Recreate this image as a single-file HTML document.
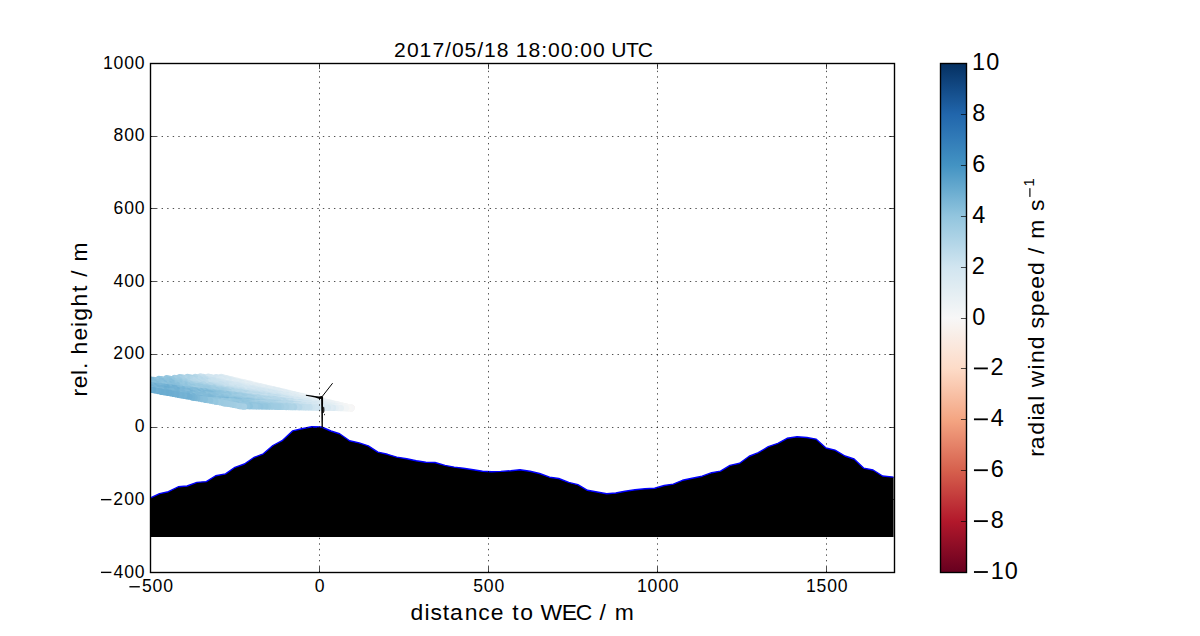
<!DOCTYPE html>
<html><head><meta charset="utf-8"><style>
html,body{margin:0;padding:0;background:#fff;width:1200px;height:636px;overflow:hidden;}
svg{display:block;}
text{font-family:"Liberation Sans",sans-serif;}
</style></head><body>
<svg width="1200" height="636" viewBox="0 0 1200 636">
<defs>
<linearGradient id="cb" x1="0" y1="0" x2="0" y2="1"><stop offset="0" stop-color="#053061"/><stop offset="0.05" stop-color="#134b87"/><stop offset="0.1" stop-color="#2166ac"/><stop offset="0.15" stop-color="#327cb8"/><stop offset="0.2" stop-color="#4393c3"/><stop offset="0.25" stop-color="#6aacd0"/><stop offset="0.3" stop-color="#92c5de"/><stop offset="0.35" stop-color="#b1d5e7"/><stop offset="0.4" stop-color="#d1e5f0"/><stop offset="0.45" stop-color="#e4eef3"/><stop offset="0.5" stop-color="#f7f7f7"/><stop offset="0.55" stop-color="#fae9df"/><stop offset="0.6" stop-color="#fddbc7"/><stop offset="0.65" stop-color="#f8c0a5"/><stop offset="0.7" stop-color="#f4a582"/><stop offset="0.75" stop-color="#e58268"/><stop offset="0.8" stop-color="#d6604d"/><stop offset="0.85" stop-color="#c43c3c"/><stop offset="0.9" stop-color="#b2182b"/><stop offset="0.95" stop-color="#8c0c25"/><stop offset="1" stop-color="#67001f"/></linearGradient>


<clipPath id="axclip"><rect x="150.5" y="63.5" width="744.0" height="509.0"/></clipPath>
</defs>
<rect width="1200" height="636" fill="#fff"/>
<g clip-path="url(#axclip)">
<circle cx="351.3" cy="407.62" r="3.1" fill="#f8f4f2"/><circle cx="348.7" cy="407.01" r="3.1" fill="#f8f4f2"/><circle cx="346.1" cy="406.39" r="3.1" fill="#f7f6f6"/><circle cx="343.5" cy="405.78" r="3.1" fill="#f6f7f7"/><circle cx="340.9" cy="405.17" r="3.1" fill="#f7f5f4"/><circle cx="338.3" cy="404.55" r="3.1" fill="#f7f6f6"/><circle cx="335.7" cy="403.94" r="3.1" fill="#f0f4f6"/><circle cx="333.1" cy="403.33" r="3.1" fill="#f3f5f6"/><circle cx="330.5" cy="402.71" r="3.1" fill="#f2f5f6"/><circle cx="327.9" cy="402.1" r="3.1" fill="#ebf1f5"/><circle cx="325.3" cy="401.49" r="3.1" fill="#eef3f5"/><circle cx="322.7" cy="400.87" r="3.1" fill="#eaf1f5"/><circle cx="320.1" cy="400.26" r="3.1" fill="#ecf2f5"/><circle cx="317.5" cy="399.64" r="3.1" fill="#ebf1f5"/><circle cx="314.9" cy="399.03" r="3.1" fill="#eff3f6"/><circle cx="312.3" cy="398.42" r="3.1" fill="#ecf2f5"/><circle cx="309.7" cy="397.8" r="3.1" fill="#ebf1f5"/><circle cx="307.1" cy="397.19" r="3.1" fill="#edf2f5"/><circle cx="304.5" cy="396.58" r="3.1" fill="#eaf1f5"/><circle cx="301.9" cy="395.96" r="3.1" fill="#e9f1f4"/><circle cx="299.3" cy="395.35" r="3.1" fill="#edf2f5"/><circle cx="296.7" cy="394.74" r="3.1" fill="#e6eff4"/><circle cx="294.1" cy="394.12" r="3.1" fill="#e6eff4"/><circle cx="291.5" cy="393.51" r="3.1" fill="#e7f0f4"/><circle cx="288.9" cy="392.89" r="3.1" fill="#e8f0f4"/><circle cx="286.3" cy="392.28" r="3.1" fill="#e2edf3"/><circle cx="283.7" cy="391.67" r="3.1" fill="#e5eff4"/><circle cx="281.1" cy="391.05" r="3.1" fill="#e4eef3"/><circle cx="278.5" cy="390.44" r="3.1" fill="#e2edf3"/><circle cx="275.9" cy="389.83" r="3.1" fill="#e4eef3"/><circle cx="273.3" cy="389.21" r="3.1" fill="#e3edf3"/><circle cx="270.7" cy="388.6" r="3.1" fill="#e7eff4"/><circle cx="268.1" cy="387.99" r="3.1" fill="#e5eef4"/><circle cx="265.5" cy="387.37" r="3.1" fill="#e8f0f4"/><circle cx="262.9" cy="386.76" r="3.1" fill="#e5eff4"/><circle cx="260.3" cy="386.15" r="3.1" fill="#e6eff4"/><circle cx="257.7" cy="385.53" r="3.1" fill="#ecf2f5"/><circle cx="255.1" cy="384.92" r="3.1" fill="#ecf2f5"/><circle cx="252.5" cy="384.3" r="3.1" fill="#ecf2f5"/><circle cx="249.9" cy="383.69" r="3.1" fill="#e6eff4"/><circle cx="247.3" cy="383.08" r="3.1" fill="#eaf1f5"/><circle cx="244.7" cy="382.46" r="3.1" fill="#e8f0f4"/><circle cx="242.1" cy="381.85" r="3.1" fill="#eaf1f5"/><circle cx="239.5" cy="381.24" r="3.1" fill="#e7eff4"/><circle cx="236.9" cy="380.62" r="3.1" fill="#e6eff4"/><circle cx="234.3" cy="380.01" r="3.1" fill="#e5eff4"/><circle cx="231.7" cy="379.4" r="3.1" fill="#e2edf3"/><circle cx="229.1" cy="378.78" r="3.1" fill="#e1edf3"/><circle cx="226.5" cy="378.17" r="3.1" fill="#ddebf2"/><circle cx="223.9" cy="377.55" r="3.1" fill="#deebf2"/><circle cx="221.3" cy="376.94" r="3.1" fill="#dbeaf2"/><circle cx="351.3" cy="407.65" r="3.1" fill="#f3f5f6"/><circle cx="348.7" cy="407.06" r="3.1" fill="#f4f6f6"/><circle cx="346.1" cy="406.47" r="3.1" fill="#f7f7f7"/><circle cx="343.5" cy="405.88" r="3.1" fill="#f0f4f6"/><circle cx="340.9" cy="405.3" r="3.1" fill="#eef3f5"/><circle cx="338.3" cy="404.71" r="3.1" fill="#ecf2f5"/><circle cx="335.7" cy="404.12" r="3.1" fill="#edf2f5"/><circle cx="333.1" cy="403.53" r="3.1" fill="#ebf1f5"/><circle cx="330.5" cy="402.94" r="3.1" fill="#eef3f5"/><circle cx="327.9" cy="402.35" r="3.1" fill="#e8f0f4"/><circle cx="325.3" cy="401.76" r="3.1" fill="#e9f0f4"/><circle cx="322.7" cy="401.17" r="3.1" fill="#eaf1f5"/><circle cx="320.1" cy="400.58" r="3.1" fill="#eaf1f5"/><circle cx="317.5" cy="399.99" r="3.1" fill="#e5eef4"/><circle cx="314.9" cy="399.4" r="3.1" fill="#e4eef4"/><circle cx="312.3" cy="398.81" r="3.1" fill="#ebf1f5"/><circle cx="309.7" cy="398.23" r="3.1" fill="#e6eff4"/><circle cx="307.1" cy="397.64" r="3.1" fill="#e9f0f4"/><circle cx="304.5" cy="397.05" r="3.1" fill="#eaf1f5"/><circle cx="301.9" cy="396.46" r="3.1" fill="#e7f0f4"/><circle cx="299.3" cy="395.87" r="3.1" fill="#e3edf3"/><circle cx="296.7" cy="395.28" r="3.1" fill="#e1ecf3"/><circle cx="294.1" cy="394.69" r="3.1" fill="#e5eff4"/><circle cx="291.5" cy="394.1" r="3.1" fill="#e0ecf3"/><circle cx="288.9" cy="393.51" r="3.1" fill="#e3eef3"/><circle cx="286.3" cy="392.92" r="3.1" fill="#deebf2"/><circle cx="283.7" cy="392.33" r="3.1" fill="#e1ecf3"/><circle cx="281.1" cy="391.74" r="3.1" fill="#dceaf2"/><circle cx="278.5" cy="391.16" r="3.1" fill="#dbeaf2"/><circle cx="275.9" cy="390.57" r="3.1" fill="#deebf2"/><circle cx="273.3" cy="389.98" r="3.1" fill="#dbeaf2"/><circle cx="270.7" cy="389.39" r="3.1" fill="#e1ecf3"/><circle cx="268.1" cy="388.8" r="3.1" fill="#e3edf3"/><circle cx="265.5" cy="388.21" r="3.1" fill="#dfecf3"/><circle cx="262.9" cy="387.62" r="3.1" fill="#e4eef4"/><circle cx="260.3" cy="387.03" r="3.1" fill="#e3eef3"/><circle cx="257.7" cy="386.44" r="3.1" fill="#e2edf3"/><circle cx="255.1" cy="385.85" r="3.1" fill="#e1ecf3"/><circle cx="252.5" cy="385.26" r="3.1" fill="#e4eef4"/><circle cx="249.9" cy="384.67" r="3.1" fill="#e5eef4"/><circle cx="247.3" cy="384.08" r="3.1" fill="#dfebf2"/><circle cx="244.7" cy="383.5" r="3.1" fill="#e3edf3"/><circle cx="242.1" cy="382.91" r="3.1" fill="#ddebf2"/><circle cx="239.5" cy="382.32" r="3.1" fill="#dceaf2"/><circle cx="236.9" cy="381.73" r="3.1" fill="#dfecf3"/><circle cx="234.3" cy="381.14" r="3.1" fill="#ddebf2"/><circle cx="231.7" cy="380.55" r="3.1" fill="#dceaf2"/><circle cx="229.1" cy="379.96" r="3.1" fill="#d9e9f2"/><circle cx="226.5" cy="379.37" r="3.1" fill="#d9e9f1"/><circle cx="223.9" cy="378.78" r="3.1" fill="#d8e8f1"/><circle cx="221.3" cy="378.19" r="3.1" fill="#d6e7f1"/><circle cx="218.7" cy="377.6" r="3.1" fill="#d3e6f0"/><circle cx="216.1" cy="377.01" r="3.1" fill="#d4e6f1"/><circle cx="351.3" cy="407.68" r="3.1" fill="#f7f6f5"/><circle cx="348.7" cy="407.12" r="3.1" fill="#f8f4f2"/><circle cx="346.1" cy="406.55" r="3.1" fill="#f7f6f5"/><circle cx="343.5" cy="405.99" r="3.1" fill="#f2f5f6"/><circle cx="340.9" cy="405.42" r="3.1" fill="#f4f6f6"/><circle cx="338.3" cy="404.86" r="3.1" fill="#f2f5f6"/><circle cx="335.7" cy="404.29" r="3.1" fill="#f5f6f7"/><circle cx="333.1" cy="403.73" r="3.1" fill="#f0f4f6"/><circle cx="330.5" cy="403.17" r="3.1" fill="#edf2f5"/><circle cx="327.9" cy="402.6" r="3.1" fill="#f1f4f6"/><circle cx="325.3" cy="402.04" r="3.1" fill="#ebf1f5"/><circle cx="322.7" cy="401.47" r="3.1" fill="#eaf1f5"/><circle cx="320.1" cy="400.91" r="3.1" fill="#eef3f5"/><circle cx="317.5" cy="400.34" r="3.1" fill="#eaf1f5"/><circle cx="314.9" cy="399.78" r="3.1" fill="#ebf1f5"/><circle cx="312.3" cy="399.21" r="3.1" fill="#eaf1f5"/><circle cx="309.7" cy="398.65" r="3.1" fill="#edf2f5"/><circle cx="307.1" cy="398.08" r="3.1" fill="#eaf1f5"/><circle cx="304.5" cy="397.52" r="3.1" fill="#e9f0f4"/><circle cx="301.9" cy="396.95" r="3.1" fill="#ecf2f5"/><circle cx="299.3" cy="396.39" r="3.1" fill="#eaf1f5"/><circle cx="296.7" cy="395.82" r="3.1" fill="#e4eef4"/><circle cx="294.1" cy="395.26" r="3.1" fill="#e1edf3"/><circle cx="291.5" cy="394.69" r="3.1" fill="#e5eff4"/><circle cx="288.9" cy="394.13" r="3.1" fill="#e2edf3"/><circle cx="286.3" cy="393.56" r="3.1" fill="#e1ecf3"/><circle cx="283.7" cy="393" r="3.1" fill="#e2edf3"/><circle cx="281.1" cy="392.43" r="3.1" fill="#e2edf3"/><circle cx="278.5" cy="391.87" r="3.1" fill="#e2edf3"/><circle cx="275.9" cy="391.3" r="3.1" fill="#e1ecf3"/><circle cx="273.3" cy="390.74" r="3.1" fill="#dfecf3"/><circle cx="270.7" cy="390.18" r="3.1" fill="#e1edf3"/><circle cx="268.1" cy="389.61" r="3.1" fill="#e1edf3"/><circle cx="265.5" cy="389.05" r="3.1" fill="#deebf2"/><circle cx="262.9" cy="388.48" r="3.1" fill="#e4eef4"/><circle cx="260.3" cy="387.92" r="3.1" fill="#e0ecf3"/><circle cx="257.7" cy="387.35" r="3.1" fill="#dfecf3"/><circle cx="255.1" cy="386.79" r="3.1" fill="#e3edf3"/><circle cx="252.5" cy="386.22" r="3.1" fill="#e4eef3"/><circle cx="249.9" cy="385.66" r="3.1" fill="#dfecf3"/><circle cx="247.3" cy="385.09" r="3.1" fill="#e3eef3"/><circle cx="244.7" cy="384.53" r="3.1" fill="#e4eef3"/><circle cx="242.1" cy="383.96" r="3.1" fill="#e1edf3"/><circle cx="239.5" cy="383.4" r="3.1" fill="#deebf2"/><circle cx="236.9" cy="382.83" r="3.1" fill="#e1edf3"/><circle cx="234.3" cy="382.27" r="3.1" fill="#dfebf3"/><circle cx="231.7" cy="381.7" r="3.1" fill="#deebf2"/><circle cx="229.1" cy="381.14" r="3.1" fill="#d9e9f1"/><circle cx="226.5" cy="380.57" r="3.1" fill="#dbeaf2"/><circle cx="223.9" cy="380.01" r="3.1" fill="#d7e8f1"/><circle cx="221.3" cy="379.44" r="3.1" fill="#dbeaf2"/><circle cx="218.7" cy="378.88" r="3.1" fill="#d8e9f1"/><circle cx="216.1" cy="378.32" r="3.1" fill="#d4e6f1"/><circle cx="213.5" cy="377.75" r="3.1" fill="#d1e5f0"/><circle cx="210.9" cy="377.19" r="3.1" fill="#d3e6f0"/><circle cx="208.3" cy="376.62" r="3.1" fill="#d3e6f0"/><circle cx="351.3" cy="407.71" r="3.1" fill="#f8f3f1"/><circle cx="348.7" cy="407.17" r="3.1" fill="#f8f2ef"/><circle cx="346.1" cy="406.63" r="3.1" fill="#f7f7f7"/><circle cx="343.5" cy="406.09" r="3.1" fill="#f6f6f7"/><circle cx="340.9" cy="405.55" r="3.1" fill="#f7f6f5"/><circle cx="338.3" cy="405.01" r="3.1" fill="#f6f7f7"/><circle cx="335.7" cy="404.47" r="3.1" fill="#f0f4f6"/><circle cx="333.1" cy="403.93" r="3.1" fill="#f0f4f6"/><circle cx="330.5" cy="403.39" r="3.1" fill="#eef3f5"/><circle cx="327.9" cy="402.85" r="3.1" fill="#f0f4f6"/><circle cx="325.3" cy="402.31" r="3.1" fill="#f1f4f6"/><circle cx="322.7" cy="401.77" r="3.1" fill="#eef3f5"/><circle cx="320.1" cy="401.23" r="3.1" fill="#eaf1f5"/><circle cx="317.5" cy="400.69" r="3.1" fill="#eef3f5"/><circle cx="314.9" cy="400.15" r="3.1" fill="#eef3f5"/><circle cx="312.3" cy="399.61" r="3.1" fill="#eef3f5"/><circle cx="309.7" cy="399.07" r="3.1" fill="#eef3f5"/><circle cx="307.1" cy="398.53" r="3.1" fill="#edf2f5"/><circle cx="304.5" cy="397.99" r="3.1" fill="#e8f0f4"/><circle cx="301.9" cy="397.45" r="3.1" fill="#ecf2f5"/><circle cx="299.3" cy="396.91" r="3.1" fill="#ecf2f5"/><circle cx="296.7" cy="396.37" r="3.1" fill="#e3eef3"/><circle cx="294.1" cy="395.83" r="3.1" fill="#e3edf3"/><circle cx="291.5" cy="395.29" r="3.1" fill="#e1ecf3"/><circle cx="288.9" cy="394.75" r="3.1" fill="#e4eef3"/><circle cx="286.3" cy="394.21" r="3.1" fill="#dfecf3"/><circle cx="283.7" cy="393.67" r="3.1" fill="#dfebf3"/><circle cx="281.1" cy="393.12" r="3.1" fill="#e3eef3"/><circle cx="278.5" cy="392.58" r="3.1" fill="#dfebf3"/><circle cx="275.9" cy="392.04" r="3.1" fill="#ddebf2"/><circle cx="273.3" cy="391.5" r="3.1" fill="#deebf2"/><circle cx="270.7" cy="390.96" r="3.1" fill="#dfecf3"/><circle cx="268.1" cy="390.42" r="3.1" fill="#e1edf3"/><circle cx="265.5" cy="389.88" r="3.1" fill="#e1ecf3"/><circle cx="262.9" cy="389.34" r="3.1" fill="#e2edf3"/><circle cx="260.3" cy="388.8" r="3.1" fill="#e3eef3"/><circle cx="257.7" cy="388.26" r="3.1" fill="#e0ecf3"/><circle cx="255.1" cy="387.72" r="3.1" fill="#e2edf3"/><circle cx="252.5" cy="387.18" r="3.1" fill="#deebf2"/><circle cx="249.9" cy="386.64" r="3.1" fill="#e4eef4"/><circle cx="247.3" cy="386.1" r="3.1" fill="#ddebf2"/><circle cx="244.7" cy="385.56" r="3.1" fill="#dfecf3"/><circle cx="242.1" cy="385.02" r="3.1" fill="#ddebf2"/><circle cx="239.5" cy="384.48" r="3.1" fill="#dceaf2"/><circle cx="236.9" cy="383.94" r="3.1" fill="#dbeaf2"/><circle cx="234.3" cy="383.4" r="3.1" fill="#dceaf2"/><circle cx="231.7" cy="382.86" r="3.1" fill="#e0ecf3"/><circle cx="229.1" cy="382.32" r="3.1" fill="#d9e9f2"/><circle cx="226.5" cy="381.78" r="3.1" fill="#ddebf2"/><circle cx="223.9" cy="381.24" r="3.1" fill="#dbeaf2"/><circle cx="221.3" cy="380.7" r="3.1" fill="#d7e8f1"/><circle cx="218.7" cy="380.16" r="3.1" fill="#d7e8f1"/><circle cx="216.1" cy="379.62" r="3.1" fill="#d6e8f1"/><circle cx="213.5" cy="379.08" r="3.1" fill="#d1e5f0"/><circle cx="210.9" cy="378.54" r="3.1" fill="#d2e6f0"/><circle cx="208.3" cy="378" r="3.1" fill="#d3e6f0"/><circle cx="205.7" cy="377.45" r="3.1" fill="#d2e5f0"/><circle cx="203.1" cy="376.91" r="3.1" fill="#c8e0ed"/><circle cx="200.5" cy="376.37" r="3.1" fill="#cae1ee"/><circle cx="351.3" cy="407.75" r="3.1" fill="#f7f6f5"/><circle cx="348.7" cy="407.23" r="3.1" fill="#f7f6f5"/><circle cx="346.1" cy="406.71" r="3.1" fill="#f4f6f6"/><circle cx="343.5" cy="406.2" r="3.1" fill="#f1f4f6"/><circle cx="340.9" cy="405.68" r="3.1" fill="#f4f6f6"/><circle cx="338.3" cy="405.17" r="3.1" fill="#edf2f5"/><circle cx="335.7" cy="404.65" r="3.1" fill="#eaf1f5"/><circle cx="333.1" cy="404.13" r="3.1" fill="#e9f0f4"/><circle cx="330.5" cy="403.62" r="3.1" fill="#e8f0f4"/><circle cx="327.9" cy="403.1" r="3.1" fill="#edf2f5"/><circle cx="325.3" cy="402.59" r="3.1" fill="#e7eff4"/><circle cx="322.7" cy="402.07" r="3.1" fill="#e4eef4"/><circle cx="320.1" cy="401.55" r="3.1" fill="#e9f1f4"/><circle cx="317.5" cy="401.04" r="3.1" fill="#e8f0f4"/><circle cx="314.9" cy="400.52" r="3.1" fill="#e8f0f4"/><circle cx="312.3" cy="400.01" r="3.1" fill="#e6eff4"/><circle cx="309.7" cy="399.49" r="3.1" fill="#e7eff4"/><circle cx="307.1" cy="398.97" r="3.1" fill="#e6eff4"/><circle cx="304.5" cy="398.46" r="3.1" fill="#e2edf3"/><circle cx="301.9" cy="397.94" r="3.1" fill="#e7eff4"/><circle cx="299.3" cy="397.43" r="3.1" fill="#e5eef4"/><circle cx="296.7" cy="396.91" r="3.1" fill="#e3eef3"/><circle cx="294.1" cy="396.39" r="3.1" fill="#e2edf3"/><circle cx="291.5" cy="395.88" r="3.1" fill="#e1edf3"/><circle cx="288.9" cy="395.36" r="3.1" fill="#d9e9f2"/><circle cx="286.3" cy="394.85" r="3.1" fill="#d9e9f2"/><circle cx="283.7" cy="394.33" r="3.1" fill="#dfebf2"/><circle cx="281.1" cy="393.82" r="3.1" fill="#dae9f2"/><circle cx="278.5" cy="393.3" r="3.1" fill="#dbeaf2"/><circle cx="275.9" cy="392.78" r="3.1" fill="#dae9f2"/><circle cx="273.3" cy="392.27" r="3.1" fill="#d9e9f2"/><circle cx="270.7" cy="391.75" r="3.1" fill="#d7e8f1"/><circle cx="268.1" cy="391.24" r="3.1" fill="#d7e8f1"/><circle cx="265.5" cy="390.72" r="3.1" fill="#d9e9f1"/><circle cx="262.9" cy="390.2" r="3.1" fill="#dae9f2"/><circle cx="260.3" cy="389.69" r="3.1" fill="#d9e9f1"/><circle cx="257.7" cy="389.17" r="3.1" fill="#dbeaf2"/><circle cx="255.1" cy="388.66" r="3.1" fill="#d8e8f1"/><circle cx="252.5" cy="388.14" r="3.1" fill="#d7e8f1"/><circle cx="249.9" cy="387.62" r="3.1" fill="#d9e9f2"/><circle cx="247.3" cy="387.11" r="3.1" fill="#dceaf2"/><circle cx="244.7" cy="386.59" r="3.1" fill="#dbeaf2"/><circle cx="242.1" cy="386.08" r="3.1" fill="#d9e9f1"/><circle cx="239.5" cy="385.56" r="3.1" fill="#d6e7f1"/><circle cx="236.9" cy="385.04" r="3.1" fill="#d4e6f1"/><circle cx="234.3" cy="384.53" r="3.1" fill="#d6e7f1"/><circle cx="231.7" cy="384.01" r="3.1" fill="#d2e6f0"/><circle cx="229.1" cy="383.5" r="3.1" fill="#d3e6f0"/><circle cx="226.5" cy="382.98" r="3.1" fill="#d3e6f0"/><circle cx="223.9" cy="382.46" r="3.1" fill="#d3e6f0"/><circle cx="221.3" cy="381.95" r="3.1" fill="#d2e5f0"/><circle cx="218.7" cy="381.43" r="3.1" fill="#cee3ef"/><circle cx="216.1" cy="380.92" r="3.1" fill="#cfe4ef"/><circle cx="213.5" cy="380.4" r="3.1" fill="#c9e1ee"/><circle cx="210.9" cy="379.88" r="3.1" fill="#c9e1ee"/><circle cx="208.3" cy="379.37" r="3.1" fill="#cae1ee"/><circle cx="205.7" cy="378.85" r="3.1" fill="#c4deec"/><circle cx="203.1" cy="378.34" r="3.1" fill="#bfdceb"/><circle cx="200.5" cy="377.82" r="3.1" fill="#c4deec"/><circle cx="197.9" cy="377.31" r="3.1" fill="#bddbea"/><circle cx="195.3" cy="376.79" r="3.1" fill="#bad9e9"/><circle cx="351.3" cy="407.78" r="3.1" fill="#f3f5f6"/><circle cx="348.7" cy="407.28" r="3.1" fill="#f6f7f7"/><circle cx="346.1" cy="406.79" r="3.1" fill="#f1f4f6"/><circle cx="343.5" cy="406.3" r="3.1" fill="#f0f4f6"/><circle cx="340.9" cy="405.81" r="3.1" fill="#f2f5f6"/><circle cx="338.3" cy="405.32" r="3.1" fill="#eff3f5"/><circle cx="335.7" cy="404.83" r="3.1" fill="#eff3f6"/><circle cx="333.1" cy="404.34" r="3.1" fill="#e7f0f4"/><circle cx="330.5" cy="403.84" r="3.1" fill="#e8f0f4"/><circle cx="327.9" cy="403.35" r="3.1" fill="#e5eef4"/><circle cx="325.3" cy="402.86" r="3.1" fill="#e4eef4"/><circle cx="322.7" cy="402.37" r="3.1" fill="#e4eef4"/><circle cx="320.1" cy="401.88" r="3.1" fill="#e3edf3"/><circle cx="317.5" cy="401.39" r="3.1" fill="#e4eef4"/><circle cx="314.9" cy="400.89" r="3.1" fill="#e7f0f4"/><circle cx="312.3" cy="400.4" r="3.1" fill="#e3eef3"/><circle cx="309.7" cy="399.91" r="3.1" fill="#e8f0f4"/><circle cx="307.1" cy="399.42" r="3.1" fill="#e6eff4"/><circle cx="304.5" cy="398.93" r="3.1" fill="#e0ecf3"/><circle cx="301.9" cy="398.44" r="3.1" fill="#e4eef3"/><circle cx="299.3" cy="397.95" r="3.1" fill="#e2edf3"/><circle cx="296.7" cy="397.45" r="3.1" fill="#e1edf3"/><circle cx="294.1" cy="396.96" r="3.1" fill="#dae9f2"/><circle cx="291.5" cy="396.47" r="3.1" fill="#deebf2"/><circle cx="288.9" cy="395.98" r="3.1" fill="#dfebf3"/><circle cx="286.3" cy="395.49" r="3.1" fill="#d7e8f1"/><circle cx="283.7" cy="395" r="3.1" fill="#dceaf2"/><circle cx="281.1" cy="394.51" r="3.1" fill="#d5e7f1"/><circle cx="278.5" cy="394.01" r="3.1" fill="#d6e7f1"/><circle cx="275.9" cy="393.52" r="3.1" fill="#d3e6f0"/><circle cx="273.3" cy="393.03" r="3.1" fill="#d2e5f0"/><circle cx="270.7" cy="392.54" r="3.1" fill="#d4e6f1"/><circle cx="268.1" cy="392.05" r="3.1" fill="#d2e5f0"/><circle cx="265.5" cy="391.56" r="3.1" fill="#d7e8f1"/><circle cx="262.9" cy="391.06" r="3.1" fill="#d1e5f0"/><circle cx="260.3" cy="390.57" r="3.1" fill="#d4e6f0"/><circle cx="257.7" cy="390.08" r="3.1" fill="#d2e6f0"/><circle cx="255.1" cy="389.59" r="3.1" fill="#d7e8f1"/><circle cx="252.5" cy="389.1" r="3.1" fill="#d3e6f0"/><circle cx="249.9" cy="388.61" r="3.1" fill="#d1e5f0"/><circle cx="247.3" cy="388.12" r="3.1" fill="#d8e8f1"/><circle cx="244.7" cy="387.62" r="3.1" fill="#d6e7f1"/><circle cx="242.1" cy="387.13" r="3.1" fill="#d4e6f0"/><circle cx="239.5" cy="386.64" r="3.1" fill="#d1e5f0"/><circle cx="236.9" cy="386.15" r="3.1" fill="#d4e7f1"/><circle cx="234.3" cy="385.66" r="3.1" fill="#d4e6f1"/><circle cx="231.7" cy="385.17" r="3.1" fill="#d3e6f0"/><circle cx="229.1" cy="384.68" r="3.1" fill="#cfe4ef"/><circle cx="226.5" cy="384.18" r="3.1" fill="#cce2ef"/><circle cx="223.9" cy="383.69" r="3.1" fill="#cfe4f0"/><circle cx="221.3" cy="383.2" r="3.1" fill="#cfe4ef"/><circle cx="218.7" cy="382.71" r="3.1" fill="#cde3ef"/><circle cx="216.1" cy="382.22" r="3.1" fill="#cbe2ee"/><circle cx="213.5" cy="381.73" r="3.1" fill="#c8e1ed"/><circle cx="210.9" cy="381.23" r="3.1" fill="#cae2ee"/><circle cx="208.3" cy="380.74" r="3.1" fill="#c3deec"/><circle cx="205.7" cy="380.25" r="3.1" fill="#bad9e9"/><circle cx="203.1" cy="379.76" r="3.1" fill="#bfdceb"/><circle cx="200.5" cy="379.27" r="3.1" fill="#b8d8e9"/><circle cx="197.9" cy="378.78" r="3.1" fill="#bcdbea"/><circle cx="195.3" cy="378.29" r="3.1" fill="#b3d6e7"/><circle cx="192.7" cy="377.79" r="3.1" fill="#afd4e6"/><circle cx="190.1" cy="377.3" r="3.1" fill="#add3e6"/><circle cx="187.5" cy="376.81" r="3.1" fill="#acd2e5"/><circle cx="351.3" cy="407.81" r="3.1" fill="#f7f6f5"/><circle cx="348.7" cy="407.34" r="3.1" fill="#f5f6f7"/><circle cx="346.1" cy="406.87" r="3.1" fill="#f7f5f4"/><circle cx="343.5" cy="406.41" r="3.1" fill="#f7f6f5"/><circle cx="340.9" cy="405.94" r="3.1" fill="#f1f4f6"/><circle cx="338.3" cy="405.47" r="3.1" fill="#eef3f5"/><circle cx="335.7" cy="405" r="3.1" fill="#eef3f5"/><circle cx="333.1" cy="404.54" r="3.1" fill="#edf2f5"/><circle cx="330.5" cy="404.07" r="3.1" fill="#e9f1f4"/><circle cx="327.9" cy="403.6" r="3.1" fill="#ecf2f5"/><circle cx="325.3" cy="403.14" r="3.1" fill="#eaf1f5"/><circle cx="322.7" cy="402.67" r="3.1" fill="#eaf1f5"/><circle cx="320.1" cy="402.2" r="3.1" fill="#e6eff4"/><circle cx="317.5" cy="401.73" r="3.1" fill="#e8f0f4"/><circle cx="314.9" cy="401.27" r="3.1" fill="#e8f0f4"/><circle cx="312.3" cy="400.8" r="3.1" fill="#e4eef4"/><circle cx="309.7" cy="400.33" r="3.1" fill="#e2edf3"/><circle cx="307.1" cy="399.87" r="3.1" fill="#e6eff4"/><circle cx="304.5" cy="399.4" r="3.1" fill="#e1edf3"/><circle cx="301.9" cy="398.93" r="3.1" fill="#e2edf3"/><circle cx="299.3" cy="398.47" r="3.1" fill="#deebf2"/><circle cx="296.7" cy="398" r="3.1" fill="#dfebf3"/><circle cx="294.1" cy="397.53" r="3.1" fill="#e0ecf3"/><circle cx="291.5" cy="397.06" r="3.1" fill="#e0ecf3"/><circle cx="288.9" cy="396.6" r="3.1" fill="#e0ecf3"/><circle cx="286.3" cy="396.13" r="3.1" fill="#dceaf2"/><circle cx="283.7" cy="395.66" r="3.1" fill="#dbeaf2"/><circle cx="281.1" cy="395.2" r="3.1" fill="#dbeaf2"/><circle cx="278.5" cy="394.73" r="3.1" fill="#d8e9f1"/><circle cx="275.9" cy="394.26" r="3.1" fill="#d7e8f1"/><circle cx="273.3" cy="393.79" r="3.1" fill="#d3e6f0"/><circle cx="270.7" cy="393.33" r="3.1" fill="#d7e8f1"/><circle cx="268.1" cy="392.86" r="3.1" fill="#d0e5f0"/><circle cx="265.5" cy="392.39" r="3.1" fill="#d4e6f1"/><circle cx="262.9" cy="391.93" r="3.1" fill="#d2e6f0"/><circle cx="260.3" cy="391.46" r="3.1" fill="#d4e6f0"/><circle cx="257.7" cy="390.99" r="3.1" fill="#d1e5f0"/><circle cx="255.1" cy="390.52" r="3.1" fill="#d2e5f0"/><circle cx="252.5" cy="390.06" r="3.1" fill="#d4e6f0"/><circle cx="249.9" cy="389.59" r="3.1" fill="#d4e7f1"/><circle cx="247.3" cy="389.12" r="3.1" fill="#d2e6f0"/><circle cx="244.7" cy="388.66" r="3.1" fill="#d1e5f0"/><circle cx="242.1" cy="388.19" r="3.1" fill="#d4e7f1"/><circle cx="239.5" cy="387.72" r="3.1" fill="#d1e5f0"/><circle cx="236.9" cy="387.25" r="3.1" fill="#cde3ef"/><circle cx="234.3" cy="386.79" r="3.1" fill="#d1e5f0"/><circle cx="231.7" cy="386.32" r="3.1" fill="#d2e6f0"/><circle cx="229.1" cy="385.85" r="3.1" fill="#d2e5f0"/><circle cx="226.5" cy="385.39" r="3.1" fill="#cbe2ee"/><circle cx="223.9" cy="384.92" r="3.1" fill="#cbe2ee"/><circle cx="221.3" cy="384.45" r="3.1" fill="#c6dfed"/><circle cx="218.7" cy="383.99" r="3.1" fill="#c6e0ed"/><circle cx="216.1" cy="383.52" r="3.1" fill="#cbe2ee"/><circle cx="213.5" cy="383.05" r="3.1" fill="#cbe2ee"/><circle cx="210.9" cy="382.58" r="3.1" fill="#c9e1ee"/><circle cx="208.3" cy="382.12" r="3.1" fill="#c9e1ee"/><circle cx="205.7" cy="381.65" r="3.1" fill="#c0dceb"/><circle cx="203.1" cy="381.18" r="3.1" fill="#bbdaea"/><circle cx="200.5" cy="380.72" r="3.1" fill="#b8d8e9"/><circle cx="197.9" cy="380.25" r="3.1" fill="#bedbeb"/><circle cx="195.3" cy="379.78" r="3.1" fill="#b3d6e8"/><circle cx="192.7" cy="379.31" r="3.1" fill="#b8d8e9"/><circle cx="190.1" cy="378.85" r="3.1" fill="#b3d6e7"/><circle cx="187.5" cy="378.38" r="3.1" fill="#acd2e5"/><circle cx="184.9" cy="377.91" r="3.1" fill="#b1d5e7"/><circle cx="182.3" cy="377.45" r="3.1" fill="#aed3e6"/><circle cx="179.7" cy="376.98" r="3.1" fill="#a2cde2"/><circle cx="351.3" cy="407.84" r="3.1" fill="#f8f3f0"/><circle cx="348.7" cy="407.4" r="3.1" fill="#f7f5f4"/><circle cx="346.1" cy="406.95" r="3.1" fill="#f7f7f7"/><circle cx="343.5" cy="406.51" r="3.1" fill="#f8f4f2"/><circle cx="340.9" cy="406.07" r="3.1" fill="#f6f6f7"/><circle cx="338.3" cy="405.62" r="3.1" fill="#f2f5f6"/><circle cx="335.7" cy="405.18" r="3.1" fill="#f0f4f6"/><circle cx="333.1" cy="404.74" r="3.1" fill="#eff3f6"/><circle cx="330.5" cy="404.3" r="3.1" fill="#ebf1f5"/><circle cx="327.9" cy="403.85" r="3.1" fill="#e7f0f4"/><circle cx="325.3" cy="403.41" r="3.1" fill="#eaf1f5"/><circle cx="322.7" cy="402.97" r="3.1" fill="#e8f0f4"/><circle cx="320.1" cy="402.53" r="3.1" fill="#eaf1f5"/><circle cx="317.5" cy="402.08" r="3.1" fill="#e8f0f4"/><circle cx="314.9" cy="401.64" r="3.1" fill="#e5eef4"/><circle cx="312.3" cy="401.2" r="3.1" fill="#e8f0f4"/><circle cx="309.7" cy="400.76" r="3.1" fill="#e2edf3"/><circle cx="307.1" cy="400.31" r="3.1" fill="#e0ecf3"/><circle cx="304.5" cy="399.87" r="3.1" fill="#e6eff4"/><circle cx="301.9" cy="399.43" r="3.1" fill="#deebf2"/><circle cx="299.3" cy="398.98" r="3.1" fill="#e1edf3"/><circle cx="296.7" cy="398.54" r="3.1" fill="#ddebf2"/><circle cx="294.1" cy="398.1" r="3.1" fill="#dceaf2"/><circle cx="291.5" cy="397.66" r="3.1" fill="#dfebf3"/><circle cx="288.9" cy="397.21" r="3.1" fill="#dbeaf2"/><circle cx="286.3" cy="396.77" r="3.1" fill="#d9e9f2"/><circle cx="283.7" cy="396.33" r="3.1" fill="#d7e8f1"/><circle cx="281.1" cy="395.89" r="3.1" fill="#dae9f2"/><circle cx="278.5" cy="395.44" r="3.1" fill="#d4e7f1"/><circle cx="275.9" cy="395" r="3.1" fill="#d2e5f0"/><circle cx="273.3" cy="394.56" r="3.1" fill="#d3e6f0"/><circle cx="270.7" cy="394.12" r="3.1" fill="#d3e6f0"/><circle cx="268.1" cy="393.67" r="3.1" fill="#d6e7f1"/><circle cx="265.5" cy="393.23" r="3.1" fill="#d2e6f0"/><circle cx="262.9" cy="392.79" r="3.1" fill="#d3e6f0"/><circle cx="260.3" cy="392.34" r="3.1" fill="#d0e4f0"/><circle cx="257.7" cy="391.9" r="3.1" fill="#d0e5f0"/><circle cx="255.1" cy="391.46" r="3.1" fill="#d2e5f0"/><circle cx="252.5" cy="391.02" r="3.1" fill="#d5e7f1"/><circle cx="249.9" cy="390.57" r="3.1" fill="#d1e5f0"/><circle cx="247.3" cy="390.13" r="3.1" fill="#d1e5f0"/><circle cx="244.7" cy="389.69" r="3.1" fill="#d4e7f1"/><circle cx="242.1" cy="389.25" r="3.1" fill="#cde3ef"/><circle cx="239.5" cy="388.8" r="3.1" fill="#cfe4ef"/><circle cx="236.9" cy="388.36" r="3.1" fill="#d3e6f0"/><circle cx="234.3" cy="387.92" r="3.1" fill="#c8e1ed"/><circle cx="231.7" cy="387.47" r="3.1" fill="#d1e5f0"/><circle cx="229.1" cy="387.03" r="3.1" fill="#cee3ef"/><circle cx="226.5" cy="386.59" r="3.1" fill="#c8e0ed"/><circle cx="223.9" cy="386.15" r="3.1" fill="#c8e0ed"/><circle cx="221.3" cy="385.7" r="3.1" fill="#c8e0ed"/><circle cx="218.7" cy="385.26" r="3.1" fill="#c5dfed"/><circle cx="216.1" cy="384.82" r="3.1" fill="#c5dfed"/><circle cx="213.5" cy="384.38" r="3.1" fill="#c6dfed"/><circle cx="210.9" cy="383.93" r="3.1" fill="#c6e0ed"/><circle cx="208.3" cy="383.49" r="3.1" fill="#c7e0ed"/><circle cx="205.7" cy="383.05" r="3.1" fill="#bddbea"/><circle cx="203.1" cy="382.61" r="3.1" fill="#bcdaea"/><circle cx="200.5" cy="382.16" r="3.1" fill="#bddbea"/><circle cx="197.9" cy="381.72" r="3.1" fill="#b8d8e9"/><circle cx="195.3" cy="381.28" r="3.1" fill="#bad9e9"/><circle cx="192.7" cy="380.83" r="3.1" fill="#b9d9e9"/><circle cx="190.1" cy="380.39" r="3.1" fill="#b4d6e8"/><circle cx="187.5" cy="379.95" r="3.1" fill="#abd2e5"/><circle cx="184.9" cy="379.51" r="3.1" fill="#b2d5e7"/><circle cx="182.3" cy="379.06" r="3.1" fill="#a9d1e5"/><circle cx="179.7" cy="378.62" r="3.1" fill="#a9d1e5"/><circle cx="177.1" cy="378.18" r="3.1" fill="#a0cce2"/><circle cx="174.5" cy="377.74" r="3.1" fill="#a3cde3"/><circle cx="351.3" cy="407.87" r="3.1" fill="#f8f4f1"/><circle cx="348.7" cy="407.45" r="3.1" fill="#f7f6f4"/><circle cx="346.1" cy="407.03" r="3.1" fill="#f6f6f7"/><circle cx="343.5" cy="406.61" r="3.1" fill="#f7f7f6"/><circle cx="340.9" cy="406.2" r="3.1" fill="#f1f4f6"/><circle cx="338.3" cy="405.78" r="3.1" fill="#f4f6f6"/><circle cx="335.7" cy="405.36" r="3.1" fill="#f0f4f6"/><circle cx="333.1" cy="404.94" r="3.1" fill="#eff3f6"/><circle cx="330.5" cy="404.52" r="3.1" fill="#eef3f5"/><circle cx="327.9" cy="404.1" r="3.1" fill="#e7f0f4"/><circle cx="325.3" cy="403.69" r="3.1" fill="#e7eff4"/><circle cx="322.7" cy="403.27" r="3.1" fill="#e9f1f4"/><circle cx="320.1" cy="402.85" r="3.1" fill="#e8f0f4"/><circle cx="317.5" cy="402.43" r="3.1" fill="#e6eff4"/><circle cx="314.9" cy="402.01" r="3.1" fill="#e3edf3"/><circle cx="312.3" cy="401.6" r="3.1" fill="#e1edf3"/><circle cx="309.7" cy="401.18" r="3.1" fill="#e1ecf3"/><circle cx="307.1" cy="400.76" r="3.1" fill="#e1ecf3"/><circle cx="304.5" cy="400.34" r="3.1" fill="#e3eef3"/><circle cx="301.9" cy="399.92" r="3.1" fill="#e0ecf3"/><circle cx="299.3" cy="399.5" r="3.1" fill="#e0ecf3"/><circle cx="296.7" cy="399.09" r="3.1" fill="#dceaf2"/><circle cx="294.1" cy="398.67" r="3.1" fill="#dbeaf2"/><circle cx="291.5" cy="398.25" r="3.1" fill="#ddebf2"/><circle cx="288.9" cy="397.83" r="3.1" fill="#dbeaf2"/><circle cx="286.3" cy="397.41" r="3.1" fill="#d6e7f1"/><circle cx="283.7" cy="396.99" r="3.1" fill="#dae9f2"/><circle cx="281.1" cy="396.58" r="3.1" fill="#d3e6f0"/><circle cx="278.5" cy="396.16" r="3.1" fill="#d1e5f0"/><circle cx="275.9" cy="395.74" r="3.1" fill="#cee3ef"/><circle cx="273.3" cy="395.32" r="3.1" fill="#d3e6f0"/><circle cx="270.7" cy="394.9" r="3.1" fill="#d1e5f0"/><circle cx="268.1" cy="394.48" r="3.1" fill="#cfe4f0"/><circle cx="265.5" cy="394.07" r="3.1" fill="#cee3ef"/><circle cx="262.9" cy="393.65" r="3.1" fill="#c8e1ee"/><circle cx="260.3" cy="393.23" r="3.1" fill="#cce2ef"/><circle cx="257.7" cy="392.81" r="3.1" fill="#d1e5f0"/><circle cx="255.1" cy="392.39" r="3.1" fill="#cae1ee"/><circle cx="252.5" cy="391.98" r="3.1" fill="#cee4ef"/><circle cx="249.9" cy="391.56" r="3.1" fill="#cce2ef"/><circle cx="247.3" cy="391.14" r="3.1" fill="#cae1ee"/><circle cx="244.7" cy="390.72" r="3.1" fill="#d2e5f0"/><circle cx="242.1" cy="390.3" r="3.1" fill="#c8e0ed"/><circle cx="239.5" cy="389.88" r="3.1" fill="#c8e0ed"/><circle cx="236.9" cy="389.47" r="3.1" fill="#c9e1ee"/><circle cx="234.3" cy="389.05" r="3.1" fill="#c7e0ed"/><circle cx="231.7" cy="388.63" r="3.1" fill="#c7e0ed"/><circle cx="229.1" cy="388.21" r="3.1" fill="#c9e1ee"/><circle cx="226.5" cy="387.79" r="3.1" fill="#c4deec"/><circle cx="223.9" cy="387.37" r="3.1" fill="#c9e1ee"/><circle cx="221.3" cy="386.96" r="3.1" fill="#c2ddec"/><circle cx="218.7" cy="386.54" r="3.1" fill="#bfdceb"/><circle cx="216.1" cy="386.12" r="3.1" fill="#bfdceb"/><circle cx="213.5" cy="385.7" r="3.1" fill="#bcdaea"/><circle cx="210.9" cy="385.28" r="3.1" fill="#b6d7e8"/><circle cx="208.3" cy="384.86" r="3.1" fill="#b5d7e8"/><circle cx="205.7" cy="384.45" r="3.1" fill="#bedbea"/><circle cx="203.1" cy="384.03" r="3.1" fill="#b4d6e8"/><circle cx="200.5" cy="383.61" r="3.1" fill="#b5d7e8"/><circle cx="197.9" cy="383.19" r="3.1" fill="#bbdaea"/><circle cx="195.3" cy="382.77" r="3.1" fill="#b6d7e8"/><circle cx="192.7" cy="382.36" r="3.1" fill="#b6d7e8"/><circle cx="190.1" cy="381.94" r="3.1" fill="#b6d7e8"/><circle cx="187.5" cy="381.52" r="3.1" fill="#add3e6"/><circle cx="184.9" cy="381.1" r="3.1" fill="#a4cee3"/><circle cx="182.3" cy="380.68" r="3.1" fill="#a8d0e4"/><circle cx="179.7" cy="380.26" r="3.1" fill="#9ecbe1"/><circle cx="177.1" cy="379.85" r="3.1" fill="#9dcbe1"/><circle cx="174.5" cy="379.43" r="3.1" fill="#a1cde2"/><circle cx="171.9" cy="379.01" r="3.1" fill="#96c7df"/><circle cx="169.3" cy="378.59" r="3.1" fill="#97c8e0"/><circle cx="166.7" cy="378.17" r="3.1" fill="#94c6df"/><circle cx="351.3" cy="407.9" r="3.1" fill="#f6f7f7"/><circle cx="348.7" cy="407.51" r="3.1" fill="#f7f7f6"/><circle cx="346.1" cy="407.11" r="3.1" fill="#f3f5f6"/><circle cx="343.5" cy="406.72" r="3.1" fill="#f0f4f6"/><circle cx="340.9" cy="406.32" r="3.1" fill="#eef3f5"/><circle cx="338.3" cy="405.93" r="3.1" fill="#eef3f5"/><circle cx="335.7" cy="405.54" r="3.1" fill="#e9f1f4"/><circle cx="333.1" cy="405.14" r="3.1" fill="#e9f0f4"/><circle cx="330.5" cy="404.75" r="3.1" fill="#eaf1f5"/><circle cx="327.9" cy="404.36" r="3.1" fill="#e9f1f4"/><circle cx="325.3" cy="403.96" r="3.1" fill="#e8f0f4"/><circle cx="322.7" cy="403.57" r="3.1" fill="#e6eff4"/><circle cx="320.1" cy="403.17" r="3.1" fill="#e5eef4"/><circle cx="317.5" cy="402.78" r="3.1" fill="#e1edf3"/><circle cx="314.9" cy="402.39" r="3.1" fill="#dfebf3"/><circle cx="312.3" cy="401.99" r="3.1" fill="#dfecf3"/><circle cx="309.7" cy="401.6" r="3.1" fill="#deebf2"/><circle cx="307.1" cy="401.2" r="3.1" fill="#dbeaf2"/><circle cx="304.5" cy="400.81" r="3.1" fill="#ddebf2"/><circle cx="301.9" cy="400.42" r="3.1" fill="#dae9f2"/><circle cx="299.3" cy="400.02" r="3.1" fill="#d7e8f1"/><circle cx="296.7" cy="399.63" r="3.1" fill="#d8e8f1"/><circle cx="294.1" cy="399.24" r="3.1" fill="#d9e9f1"/><circle cx="291.5" cy="398.84" r="3.1" fill="#d2e6f0"/><circle cx="288.9" cy="398.45" r="3.1" fill="#d2e6f0"/><circle cx="286.3" cy="398.05" r="3.1" fill="#d4e6f1"/><circle cx="283.7" cy="397.66" r="3.1" fill="#d2e6f0"/><circle cx="281.1" cy="397.27" r="3.1" fill="#cfe4ef"/><circle cx="278.5" cy="396.87" r="3.1" fill="#cce3ef"/><circle cx="275.9" cy="396.48" r="3.1" fill="#cfe4ef"/><circle cx="273.3" cy="396.08" r="3.1" fill="#d1e5f0"/><circle cx="270.7" cy="395.69" r="3.1" fill="#cde3ef"/><circle cx="268.1" cy="395.3" r="3.1" fill="#c5dfec"/><circle cx="265.5" cy="394.9" r="3.1" fill="#cce2ee"/><circle cx="262.9" cy="394.51" r="3.1" fill="#c7e0ed"/><circle cx="260.3" cy="394.12" r="3.1" fill="#cae1ee"/><circle cx="257.7" cy="393.72" r="3.1" fill="#c9e1ee"/><circle cx="255.1" cy="393.33" r="3.1" fill="#c9e1ee"/><circle cx="252.5" cy="392.93" r="3.1" fill="#c6dfed"/><circle cx="249.9" cy="392.54" r="3.1" fill="#c8e0ed"/><circle cx="247.3" cy="392.15" r="3.1" fill="#c8e1ee"/><circle cx="244.7" cy="391.75" r="3.1" fill="#c6e0ed"/><circle cx="242.1" cy="391.36" r="3.1" fill="#c5dfec"/><circle cx="239.5" cy="390.96" r="3.1" fill="#bfdceb"/><circle cx="236.9" cy="390.57" r="3.1" fill="#c4deec"/><circle cx="234.3" cy="390.18" r="3.1" fill="#c3deec"/><circle cx="231.7" cy="389.78" r="3.1" fill="#bcdaea"/><circle cx="229.1" cy="389.39" r="3.1" fill="#bbdaea"/><circle cx="226.5" cy="389" r="3.1" fill="#b7d8e8"/><circle cx="223.9" cy="388.6" r="3.1" fill="#bedbea"/><circle cx="221.3" cy="388.21" r="3.1" fill="#b8d8e9"/><circle cx="218.7" cy="387.81" r="3.1" fill="#b6d8e8"/><circle cx="216.1" cy="387.42" r="3.1" fill="#b8d9e9"/><circle cx="213.5" cy="387.03" r="3.1" fill="#acd2e5"/><circle cx="210.9" cy="386.63" r="3.1" fill="#b4d6e8"/><circle cx="208.3" cy="386.24" r="3.1" fill="#b4d6e8"/><circle cx="205.7" cy="385.84" r="3.1" fill="#aed3e6"/><circle cx="203.1" cy="385.45" r="3.1" fill="#b1d5e7"/><circle cx="200.5" cy="385.06" r="3.1" fill="#aad1e5"/><circle cx="197.9" cy="384.66" r="3.1" fill="#acd2e5"/><circle cx="195.3" cy="384.27" r="3.1" fill="#aed3e6"/><circle cx="192.7" cy="383.88" r="3.1" fill="#add3e6"/><circle cx="190.1" cy="383.48" r="3.1" fill="#a4cee3"/><circle cx="187.5" cy="383.09" r="3.1" fill="#a8d0e4"/><circle cx="184.9" cy="382.69" r="3.1" fill="#9ecbe2"/><circle cx="182.3" cy="382.3" r="3.1" fill="#9fcce2"/><circle cx="179.7" cy="381.91" r="3.1" fill="#96c7df"/><circle cx="177.1" cy="381.51" r="3.1" fill="#9ac9e0"/><circle cx="174.5" cy="381.12" r="3.1" fill="#97c8df"/><circle cx="171.9" cy="380.72" r="3.1" fill="#94c6df"/><circle cx="169.3" cy="380.33" r="3.1" fill="#8ac0db"/><circle cx="166.7" cy="379.94" r="3.1" fill="#8dc2dc"/><circle cx="164.1" cy="379.54" r="3.1" fill="#92c5de"/><circle cx="161.5" cy="379.15" r="3.1" fill="#96c7df"/><circle cx="158.9" cy="378.76" r="3.1" fill="#8ec3dd"/><circle cx="351.3" cy="407.93" r="3.1" fill="#f5f6f7"/><circle cx="348.7" cy="407.56" r="3.1" fill="#f7f6f5"/><circle cx="346.1" cy="407.19" r="3.1" fill="#f7f7f7"/><circle cx="343.5" cy="406.82" r="3.1" fill="#f4f6f6"/><circle cx="340.9" cy="406.45" r="3.1" fill="#f1f4f6"/><circle cx="338.3" cy="406.08" r="3.1" fill="#eff3f6"/><circle cx="335.7" cy="405.71" r="3.1" fill="#ecf2f5"/><circle cx="333.1" cy="405.35" r="3.1" fill="#e5eef4"/><circle cx="330.5" cy="404.98" r="3.1" fill="#e2edf3"/><circle cx="327.9" cy="404.61" r="3.1" fill="#e6eff4"/><circle cx="325.3" cy="404.24" r="3.1" fill="#deebf2"/><circle cx="322.7" cy="403.87" r="3.1" fill="#e1ecf3"/><circle cx="320.1" cy="403.5" r="3.1" fill="#ddebf2"/><circle cx="317.5" cy="403.13" r="3.1" fill="#dbeaf2"/><circle cx="314.9" cy="402.76" r="3.1" fill="#dae9f2"/><circle cx="312.3" cy="402.39" r="3.1" fill="#dfecf3"/><circle cx="309.7" cy="402.02" r="3.1" fill="#dbeaf2"/><circle cx="307.1" cy="401.65" r="3.1" fill="#d8e8f1"/><circle cx="304.5" cy="401.28" r="3.1" fill="#d4e6f1"/><circle cx="301.9" cy="400.91" r="3.1" fill="#d9e9f2"/><circle cx="299.3" cy="400.54" r="3.1" fill="#d6e7f1"/><circle cx="296.7" cy="400.17" r="3.1" fill="#d0e5f0"/><circle cx="294.1" cy="399.8" r="3.1" fill="#d5e7f1"/><circle cx="291.5" cy="399.43" r="3.1" fill="#d2e5f0"/><circle cx="288.9" cy="399.06" r="3.1" fill="#d1e5f0"/><circle cx="286.3" cy="398.7" r="3.1" fill="#cae2ee"/><circle cx="283.7" cy="398.33" r="3.1" fill="#c5dfed"/><circle cx="281.1" cy="397.96" r="3.1" fill="#cde3ef"/><circle cx="278.5" cy="397.59" r="3.1" fill="#c3deec"/><circle cx="275.9" cy="397.22" r="3.1" fill="#c2ddec"/><circle cx="273.3" cy="396.85" r="3.1" fill="#bfdceb"/><circle cx="270.7" cy="396.48" r="3.1" fill="#c2ddec"/><circle cx="268.1" cy="396.11" r="3.1" fill="#bcdaea"/><circle cx="265.5" cy="395.74" r="3.1" fill="#c2deec"/><circle cx="262.9" cy="395.37" r="3.1" fill="#c1ddeb"/><circle cx="260.3" cy="395" r="3.1" fill="#c2ddec"/><circle cx="257.7" cy="394.63" r="3.1" fill="#badaea"/><circle cx="255.1" cy="394.26" r="3.1" fill="#bedbea"/><circle cx="252.5" cy="393.89" r="3.1" fill="#bfdceb"/><circle cx="249.9" cy="393.52" r="3.1" fill="#bfdceb"/><circle cx="247.3" cy="393.15" r="3.1" fill="#b7d8e9"/><circle cx="244.7" cy="392.78" r="3.1" fill="#b7d8e9"/><circle cx="242.1" cy="392.42" r="3.1" fill="#b5d7e8"/><circle cx="239.5" cy="392.05" r="3.1" fill="#b8d8e9"/><circle cx="236.9" cy="391.68" r="3.1" fill="#b5d7e8"/><circle cx="234.3" cy="391.31" r="3.1" fill="#b7d8e9"/><circle cx="231.7" cy="390.94" r="3.1" fill="#afd4e6"/><circle cx="229.1" cy="390.57" r="3.1" fill="#b6d7e8"/><circle cx="226.5" cy="390.2" r="3.1" fill="#aed3e6"/><circle cx="223.9" cy="389.83" r="3.1" fill="#a9d1e5"/><circle cx="221.3" cy="389.46" r="3.1" fill="#a8d0e4"/><circle cx="218.7" cy="389.09" r="3.1" fill="#aed3e6"/><circle cx="216.1" cy="388.72" r="3.1" fill="#aad1e5"/><circle cx="213.5" cy="388.35" r="3.1" fill="#a1cde2"/><circle cx="210.9" cy="387.98" r="3.1" fill="#a3cee3"/><circle cx="208.3" cy="387.61" r="3.1" fill="#9fcce2"/><circle cx="205.7" cy="387.24" r="3.1" fill="#9fcbe2"/><circle cx="203.1" cy="386.87" r="3.1" fill="#a3cee3"/><circle cx="200.5" cy="386.5" r="3.1" fill="#9ccae1"/><circle cx="197.9" cy="386.13" r="3.1" fill="#9dcbe1"/><circle cx="195.3" cy="385.77" r="3.1" fill="#a1cde2"/><circle cx="192.7" cy="385.4" r="3.1" fill="#9fcce2"/><circle cx="190.1" cy="385.03" r="3.1" fill="#a2cde3"/><circle cx="187.5" cy="384.66" r="3.1" fill="#9ccae1"/><circle cx="184.9" cy="384.29" r="3.1" fill="#92c5de"/><circle cx="182.3" cy="383.92" r="3.1" fill="#9bc9e0"/><circle cx="179.7" cy="383.55" r="3.1" fill="#92c5de"/><circle cx="177.1" cy="383.18" r="3.1" fill="#95c6df"/><circle cx="174.5" cy="382.81" r="3.1" fill="#92c5de"/><circle cx="171.9" cy="382.44" r="3.1" fill="#85bdda"/><circle cx="169.3" cy="382.07" r="3.1" fill="#89bfdb"/><circle cx="166.7" cy="381.7" r="3.1" fill="#8dc2dc"/><circle cx="164.1" cy="381.33" r="3.1" fill="#8cc1dc"/><circle cx="161.5" cy="380.96" r="3.1" fill="#84bcd9"/><circle cx="158.9" cy="380.59" r="3.1" fill="#86bdda"/><circle cx="156.3" cy="380.22" r="3.1" fill="#8fc3dd"/><circle cx="153.7" cy="379.85" r="3.1" fill="#8cc1dc"/><circle cx="151.1" cy="379.49" r="3.1" fill="#81bad8"/><circle cx="148.5" cy="379.12" r="3.1" fill="#8dc2dc"/><circle cx="145.9" cy="378.75" r="3.1" fill="#89bfdb"/><circle cx="143.3" cy="378.38" r="3.1" fill="#8cc1dc"/><circle cx="140.7" cy="378.01" r="3.1" fill="#86bdda"/><circle cx="351.3" cy="407.96" r="3.1" fill="#f6f7f7"/><circle cx="348.7" cy="407.62" r="3.1" fill="#f7f7f7"/><circle cx="346.1" cy="407.27" r="3.1" fill="#f7f6f5"/><circle cx="343.5" cy="406.93" r="3.1" fill="#f6f7f7"/><circle cx="340.9" cy="406.58" r="3.1" fill="#f4f6f6"/><circle cx="338.3" cy="406.24" r="3.1" fill="#ebf2f5"/><circle cx="335.7" cy="405.89" r="3.1" fill="#eef3f5"/><circle cx="333.1" cy="405.55" r="3.1" fill="#ecf2f5"/><circle cx="330.5" cy="405.2" r="3.1" fill="#e3eef3"/><circle cx="327.9" cy="404.86" r="3.1" fill="#e8f0f4"/><circle cx="325.3" cy="404.51" r="3.1" fill="#e1edf3"/><circle cx="322.7" cy="404.17" r="3.1" fill="#e6eff4"/><circle cx="320.1" cy="403.82" r="3.1" fill="#e1edf3"/><circle cx="317.5" cy="403.48" r="3.1" fill="#e2edf3"/><circle cx="314.9" cy="403.13" r="3.1" fill="#dceaf2"/><circle cx="312.3" cy="402.79" r="3.1" fill="#dceaf2"/><circle cx="309.7" cy="402.44" r="3.1" fill="#dae9f2"/><circle cx="307.1" cy="402.1" r="3.1" fill="#d7e8f1"/><circle cx="304.5" cy="401.75" r="3.1" fill="#d5e7f1"/><circle cx="301.9" cy="401.41" r="3.1" fill="#d8e8f1"/><circle cx="299.3" cy="401.06" r="3.1" fill="#d4e7f1"/><circle cx="296.7" cy="400.72" r="3.1" fill="#d4e7f1"/><circle cx="294.1" cy="400.37" r="3.1" fill="#d6e7f1"/><circle cx="291.5" cy="400.03" r="3.1" fill="#cde3ef"/><circle cx="288.9" cy="399.68" r="3.1" fill="#cee4ef"/><circle cx="286.3" cy="399.34" r="3.1" fill="#cae1ee"/><circle cx="283.7" cy="398.99" r="3.1" fill="#cfe4ef"/><circle cx="281.1" cy="398.65" r="3.1" fill="#c9e1ee"/><circle cx="278.5" cy="398.3" r="3.1" fill="#c8e0ed"/><circle cx="275.9" cy="397.96" r="3.1" fill="#c3deec"/><circle cx="273.3" cy="397.61" r="3.1" fill="#cae1ee"/><circle cx="270.7" cy="397.27" r="3.1" fill="#c6dfed"/><circle cx="268.1" cy="396.92" r="3.1" fill="#c3deec"/><circle cx="265.5" cy="396.58" r="3.1" fill="#c7e0ed"/><circle cx="262.9" cy="396.23" r="3.1" fill="#c0dceb"/><circle cx="260.3" cy="395.89" r="3.1" fill="#bddbea"/><circle cx="257.7" cy="395.54" r="3.1" fill="#c0dceb"/><circle cx="255.1" cy="395.2" r="3.1" fill="#bcdaea"/><circle cx="252.5" cy="394.85" r="3.1" fill="#bbdaea"/><circle cx="249.9" cy="394.51" r="3.1" fill="#bfdceb"/><circle cx="247.3" cy="394.16" r="3.1" fill="#bbdaea"/><circle cx="244.7" cy="393.82" r="3.1" fill="#b2d5e7"/><circle cx="242.1" cy="393.47" r="3.1" fill="#b8d8e9"/><circle cx="239.5" cy="393.13" r="3.1" fill="#b6d7e8"/><circle cx="236.9" cy="392.78" r="3.1" fill="#b8d8e9"/><circle cx="234.3" cy="392.44" r="3.1" fill="#b4d6e8"/><circle cx="231.7" cy="392.09" r="3.1" fill="#b3d6e7"/><circle cx="229.1" cy="391.75" r="3.1" fill="#a7d0e4"/><circle cx="226.5" cy="391.4" r="3.1" fill="#a8d0e4"/><circle cx="223.9" cy="391.06" r="3.1" fill="#a4cee3"/><circle cx="221.3" cy="390.71" r="3.1" fill="#a0cce2"/><circle cx="218.7" cy="390.37" r="3.1" fill="#a3cee3"/><circle cx="216.1" cy="390.02" r="3.1" fill="#9ccae1"/><circle cx="213.5" cy="389.68" r="3.1" fill="#a1cde2"/><circle cx="210.9" cy="389.33" r="3.1" fill="#a2cde3"/><circle cx="208.3" cy="388.99" r="3.1" fill="#9ac9e0"/><circle cx="205.7" cy="388.64" r="3.1" fill="#9ac9e0"/><circle cx="203.1" cy="388.3" r="3.1" fill="#99c9e0"/><circle cx="200.5" cy="387.95" r="3.1" fill="#9ecbe1"/><circle cx="197.9" cy="387.61" r="3.1" fill="#9ac9e0"/><circle cx="195.3" cy="387.26" r="3.1" fill="#9dcbe1"/><circle cx="192.7" cy="386.92" r="3.1" fill="#95c7df"/><circle cx="190.1" cy="386.57" r="3.1" fill="#95c6df"/><circle cx="187.5" cy="386.23" r="3.1" fill="#9bcae1"/><circle cx="184.9" cy="385.88" r="3.1" fill="#90c4dd"/><circle cx="182.3" cy="385.54" r="3.1" fill="#98c8e0"/><circle cx="179.7" cy="385.19" r="3.1" fill="#96c7df"/><circle cx="177.1" cy="384.85" r="3.1" fill="#8ac0db"/><circle cx="174.5" cy="384.5" r="3.1" fill="#8ec2dd"/><circle cx="171.9" cy="384.16" r="3.1" fill="#87beda"/><circle cx="169.3" cy="383.81" r="3.1" fill="#83bbd9"/><circle cx="166.7" cy="383.47" r="3.1" fill="#8dc2dc"/><circle cx="164.1" cy="383.12" r="3.1" fill="#82bbd9"/><circle cx="161.5" cy="382.78" r="3.1" fill="#8ac0db"/><circle cx="158.9" cy="382.43" r="3.1" fill="#88bfdb"/><circle cx="156.3" cy="382.09" r="3.1" fill="#8ac0db"/><circle cx="153.7" cy="381.74" r="3.1" fill="#84bcd9"/><circle cx="151.1" cy="381.4" r="3.1" fill="#85bdd9"/><circle cx="148.5" cy="381.05" r="3.1" fill="#8cc1dc"/><circle cx="145.9" cy="380.71" r="3.1" fill="#90c4dd"/><circle cx="143.3" cy="380.36" r="3.1" fill="#8ec2dd"/><circle cx="140.7" cy="380.02" r="3.1" fill="#8dc2dc"/><circle cx="351.3" cy="407.99" r="3.1" fill="#f8f1ec"/><circle cx="348.7" cy="407.67" r="3.1" fill="#f7f5f4"/><circle cx="346.1" cy="407.35" r="3.1" fill="#f7f6f5"/><circle cx="343.5" cy="407.03" r="3.1" fill="#f4f6f6"/><circle cx="340.9" cy="406.71" r="3.1" fill="#f1f4f6"/><circle cx="338.3" cy="406.39" r="3.1" fill="#eff3f5"/><circle cx="335.7" cy="406.07" r="3.1" fill="#f0f3f6"/><circle cx="333.1" cy="405.75" r="3.1" fill="#eef3f5"/><circle cx="330.5" cy="405.43" r="3.1" fill="#ecf2f5"/><circle cx="327.9" cy="405.11" r="3.1" fill="#e9f0f4"/><circle cx="325.3" cy="404.79" r="3.1" fill="#e7eff4"/><circle cx="322.7" cy="404.47" r="3.1" fill="#e5eff4"/><circle cx="320.1" cy="404.15" r="3.1" fill="#e5eff4"/><circle cx="317.5" cy="403.83" r="3.1" fill="#e0ecf3"/><circle cx="314.9" cy="403.5" r="3.1" fill="#e3edf3"/><circle cx="312.3" cy="403.18" r="3.1" fill="#dfecf3"/><circle cx="309.7" cy="402.86" r="3.1" fill="#dae9f2"/><circle cx="307.1" cy="402.54" r="3.1" fill="#d9e9f1"/><circle cx="304.5" cy="402.22" r="3.1" fill="#dceaf2"/><circle cx="301.9" cy="401.9" r="3.1" fill="#dbeaf2"/><circle cx="299.3" cy="401.58" r="3.1" fill="#d5e7f1"/><circle cx="296.7" cy="401.26" r="3.1" fill="#d9e9f2"/><circle cx="294.1" cy="400.94" r="3.1" fill="#d7e8f1"/><circle cx="291.5" cy="400.62" r="3.1" fill="#d3e6f0"/><circle cx="288.9" cy="400.3" r="3.1" fill="#d2e5f0"/><circle cx="286.3" cy="399.98" r="3.1" fill="#d3e6f0"/><circle cx="283.7" cy="399.66" r="3.1" fill="#d3e6f0"/><circle cx="281.1" cy="399.34" r="3.1" fill="#d0e4f0"/><circle cx="278.5" cy="399.02" r="3.1" fill="#c7e0ed"/><circle cx="275.9" cy="398.7" r="3.1" fill="#c9e1ee"/><circle cx="273.3" cy="398.38" r="3.1" fill="#c1ddec"/><circle cx="270.7" cy="398.05" r="3.1" fill="#c3deec"/><circle cx="268.1" cy="397.73" r="3.1" fill="#bfdceb"/><circle cx="265.5" cy="397.41" r="3.1" fill="#cae2ee"/><circle cx="262.9" cy="397.09" r="3.1" fill="#c7e0ed"/><circle cx="260.3" cy="396.77" r="3.1" fill="#c8e1ee"/><circle cx="257.7" cy="396.45" r="3.1" fill="#c2ddec"/><circle cx="255.1" cy="396.13" r="3.1" fill="#c2ddec"/><circle cx="252.5" cy="395.81" r="3.1" fill="#c4deec"/><circle cx="249.9" cy="395.49" r="3.1" fill="#bcdaea"/><circle cx="247.3" cy="395.17" r="3.1" fill="#c0dceb"/><circle cx="244.7" cy="394.85" r="3.1" fill="#bbdaea"/><circle cx="242.1" cy="394.53" r="3.1" fill="#bbdaea"/><circle cx="239.5" cy="394.21" r="3.1" fill="#b2d5e7"/><circle cx="236.9" cy="393.89" r="3.1" fill="#b4d6e8"/><circle cx="234.3" cy="393.57" r="3.1" fill="#b4d6e8"/><circle cx="231.7" cy="393.25" r="3.1" fill="#b4d6e8"/><circle cx="229.1" cy="392.93" r="3.1" fill="#add3e6"/><circle cx="226.5" cy="392.6" r="3.1" fill="#a8d0e4"/><circle cx="223.9" cy="392.28" r="3.1" fill="#a5cee3"/><circle cx="221.3" cy="391.96" r="3.1" fill="#9fcce2"/><circle cx="218.7" cy="391.64" r="3.1" fill="#9ecbe1"/><circle cx="216.1" cy="391.32" r="3.1" fill="#a2cde3"/><circle cx="213.5" cy="391" r="3.1" fill="#a4cee3"/><circle cx="210.9" cy="390.68" r="3.1" fill="#9bcae1"/><circle cx="208.3" cy="390.36" r="3.1" fill="#9ac9e0"/><circle cx="205.7" cy="390.04" r="3.1" fill="#9dcbe1"/><circle cx="203.1" cy="389.72" r="3.1" fill="#99c8e0"/><circle cx="200.5" cy="389.4" r="3.1" fill="#9ccae1"/><circle cx="197.9" cy="389.08" r="3.1" fill="#9fcbe2"/><circle cx="195.3" cy="388.76" r="3.1" fill="#9fcce2"/><circle cx="192.7" cy="388.44" r="3.1" fill="#a1cce2"/><circle cx="190.1" cy="388.12" r="3.1" fill="#98c8e0"/><circle cx="187.5" cy="387.8" r="3.1" fill="#93c6de"/><circle cx="184.9" cy="387.48" r="3.1" fill="#91c4de"/><circle cx="182.3" cy="387.15" r="3.1" fill="#95c6df"/><circle cx="179.7" cy="386.83" r="3.1" fill="#8fc3dd"/><circle cx="177.1" cy="386.51" r="3.1" fill="#88bfdb"/><circle cx="174.5" cy="386.19" r="3.1" fill="#87beda"/><circle cx="171.9" cy="385.87" r="3.1" fill="#88beda"/><circle cx="169.3" cy="385.55" r="3.1" fill="#89bfdb"/><circle cx="166.7" cy="385.23" r="3.1" fill="#88beda"/><circle cx="164.1" cy="384.91" r="3.1" fill="#8ec2dd"/><circle cx="161.5" cy="384.59" r="3.1" fill="#8ec3dd"/><circle cx="158.9" cy="384.27" r="3.1" fill="#87beda"/><circle cx="156.3" cy="383.95" r="3.1" fill="#82bbd9"/><circle cx="153.7" cy="383.63" r="3.1" fill="#8ac0db"/><circle cx="151.1" cy="383.31" r="3.1" fill="#8cc2dc"/><circle cx="148.5" cy="382.99" r="3.1" fill="#8ec2dd"/><circle cx="145.9" cy="382.67" r="3.1" fill="#8dc2dc"/><circle cx="143.3" cy="382.35" r="3.1" fill="#88bfdb"/><circle cx="140.7" cy="382.03" r="3.1" fill="#8fc3dd"/><circle cx="351.3" cy="408.02" r="3.1" fill="#f7f6f5"/><circle cx="348.7" cy="407.73" r="3.1" fill="#f6f7f7"/><circle cx="346.1" cy="407.43" r="3.1" fill="#f3f5f6"/><circle cx="343.5" cy="407.14" r="3.1" fill="#f1f4f6"/><circle cx="340.9" cy="406.84" r="3.1" fill="#ebf1f5"/><circle cx="338.3" cy="406.54" r="3.1" fill="#e8f0f4"/><circle cx="335.7" cy="406.25" r="3.1" fill="#e4eef4"/><circle cx="333.1" cy="405.95" r="3.1" fill="#e4eef3"/><circle cx="330.5" cy="405.65" r="3.1" fill="#e6eff4"/><circle cx="327.9" cy="405.36" r="3.1" fill="#e1ecf3"/><circle cx="325.3" cy="405.06" r="3.1" fill="#dfecf3"/><circle cx="322.7" cy="404.77" r="3.1" fill="#deebf2"/><circle cx="320.1" cy="404.47" r="3.1" fill="#deebf2"/><circle cx="317.5" cy="404.17" r="3.1" fill="#d9e9f2"/><circle cx="314.9" cy="403.88" r="3.1" fill="#d6e7f1"/><circle cx="312.3" cy="403.58" r="3.1" fill="#dae9f2"/><circle cx="309.7" cy="403.29" r="3.1" fill="#d3e6f0"/><circle cx="307.1" cy="402.99" r="3.1" fill="#d3e6f0"/><circle cx="304.5" cy="402.69" r="3.1" fill="#d1e5f0"/><circle cx="301.9" cy="402.4" r="3.1" fill="#cae1ee"/><circle cx="299.3" cy="402.1" r="3.1" fill="#c7e0ed"/><circle cx="296.7" cy="401.8" r="3.1" fill="#c9e1ee"/><circle cx="294.1" cy="401.51" r="3.1" fill="#cce3ef"/><circle cx="291.5" cy="401.21" r="3.1" fill="#c1ddeb"/><circle cx="288.9" cy="400.92" r="3.1" fill="#c8e0ed"/><circle cx="286.3" cy="400.62" r="3.1" fill="#c3deec"/><circle cx="283.7" cy="400.32" r="3.1" fill="#bbdaea"/><circle cx="281.1" cy="400.03" r="3.1" fill="#bfdceb"/><circle cx="278.5" cy="399.73" r="3.1" fill="#bedbeb"/><circle cx="275.9" cy="399.44" r="3.1" fill="#b4d6e8"/><circle cx="273.3" cy="399.14" r="3.1" fill="#b3d6e7"/><circle cx="270.7" cy="398.84" r="3.1" fill="#bad9e9"/><circle cx="268.1" cy="398.55" r="3.1" fill="#b8d8e9"/><circle cx="265.5" cy="398.25" r="3.1" fill="#b8d8e9"/><circle cx="262.9" cy="397.95" r="3.1" fill="#b9d9e9"/><circle cx="260.3" cy="397.66" r="3.1" fill="#b6d7e8"/><circle cx="257.7" cy="397.36" r="3.1" fill="#abd2e5"/><circle cx="255.1" cy="397.07" r="3.1" fill="#b5d7e8"/><circle cx="252.5" cy="396.77" r="3.1" fill="#b2d5e7"/><circle cx="249.9" cy="396.47" r="3.1" fill="#b0d4e7"/><circle cx="247.3" cy="396.18" r="3.1" fill="#b0d4e7"/><circle cx="244.7" cy="395.88" r="3.1" fill="#a8d0e4"/><circle cx="242.1" cy="395.58" r="3.1" fill="#a3cee3"/><circle cx="239.5" cy="395.29" r="3.1" fill="#a0cce2"/><circle cx="236.9" cy="394.99" r="3.1" fill="#a0cce2"/><circle cx="234.3" cy="394.7" r="3.1" fill="#9ac9e0"/><circle cx="231.7" cy="394.4" r="3.1" fill="#a2cde2"/><circle cx="229.1" cy="394.1" r="3.1" fill="#9bcae1"/><circle cx="226.5" cy="393.81" r="3.1" fill="#90c3dd"/><circle cx="223.9" cy="393.51" r="3.1" fill="#98c8e0"/><circle cx="221.3" cy="393.22" r="3.1" fill="#94c6de"/><circle cx="218.7" cy="392.92" r="3.1" fill="#8ec3dd"/><circle cx="216.1" cy="392.62" r="3.1" fill="#90c4dd"/><circle cx="213.5" cy="392.33" r="3.1" fill="#8ac0db"/><circle cx="210.9" cy="392.03" r="3.1" fill="#91c5de"/><circle cx="208.3" cy="391.73" r="3.1" fill="#8dc2dc"/><circle cx="205.7" cy="391.44" r="3.1" fill="#81bad8"/><circle cx="203.1" cy="391.14" r="3.1" fill="#8dc2dc"/><circle cx="200.5" cy="390.85" r="3.1" fill="#80bad8"/><circle cx="197.9" cy="390.55" r="3.1" fill="#8bc1dc"/><circle cx="195.3" cy="390.25" r="3.1" fill="#7eb8d7"/><circle cx="192.7" cy="389.96" r="3.1" fill="#83bbd9"/><circle cx="190.1" cy="389.66" r="3.1" fill="#82bbd9"/><circle cx="187.5" cy="389.37" r="3.1" fill="#89bfdb"/><circle cx="184.9" cy="389.07" r="3.1" fill="#88bfdb"/><circle cx="182.3" cy="388.77" r="3.1" fill="#7bb7d6"/><circle cx="179.7" cy="388.48" r="3.1" fill="#82bbd9"/><circle cx="177.1" cy="388.18" r="3.1" fill="#7fb9d8"/><circle cx="174.5" cy="387.88" r="3.1" fill="#73b1d3"/><circle cx="171.9" cy="387.59" r="3.1" fill="#6fafd2"/><circle cx="169.3" cy="387.29" r="3.1" fill="#7bb6d6"/><circle cx="166.7" cy="387" r="3.1" fill="#6daed1"/><circle cx="164.1" cy="386.7" r="3.1" fill="#74b2d4"/><circle cx="161.5" cy="386.4" r="3.1" fill="#77b4d5"/><circle cx="158.9" cy="386.11" r="3.1" fill="#7cb7d6"/><circle cx="156.3" cy="385.81" r="3.1" fill="#78b5d5"/><circle cx="153.7" cy="385.51" r="3.1" fill="#6fafd2"/><circle cx="151.1" cy="385.22" r="3.1" fill="#7bb6d6"/><circle cx="148.5" cy="384.92" r="3.1" fill="#7eb8d7"/><circle cx="145.9" cy="384.63" r="3.1" fill="#7eb8d7"/><circle cx="143.3" cy="384.33" r="3.1" fill="#7fb9d8"/><circle cx="140.7" cy="384.03" r="3.1" fill="#7db8d7"/><circle cx="351.3" cy="408.06" r="3.1" fill="#f7f5f4"/><circle cx="348.7" cy="407.78" r="3.1" fill="#f7f7f7"/><circle cx="346.1" cy="407.51" r="3.1" fill="#f0f4f6"/><circle cx="343.5" cy="407.24" r="3.1" fill="#edf2f5"/><circle cx="340.9" cy="406.97" r="3.1" fill="#eaf1f5"/><circle cx="338.3" cy="406.7" r="3.1" fill="#ecf2f5"/><circle cx="335.7" cy="406.42" r="3.1" fill="#e8f0f4"/><circle cx="333.1" cy="406.15" r="3.1" fill="#e1ecf3"/><circle cx="330.5" cy="405.88" r="3.1" fill="#e3edf3"/><circle cx="327.9" cy="405.61" r="3.1" fill="#dfecf3"/><circle cx="325.3" cy="405.34" r="3.1" fill="#e1ecf3"/><circle cx="322.7" cy="405.07" r="3.1" fill="#e1edf3"/><circle cx="320.1" cy="404.79" r="3.1" fill="#ddebf2"/><circle cx="317.5" cy="404.52" r="3.1" fill="#d8e8f1"/><circle cx="314.9" cy="404.25" r="3.1" fill="#d6e7f1"/><circle cx="312.3" cy="403.98" r="3.1" fill="#d5e7f1"/><circle cx="309.7" cy="403.71" r="3.1" fill="#d3e6f0"/><circle cx="307.1" cy="403.44" r="3.1" fill="#d1e5f0"/><circle cx="304.5" cy="403.16" r="3.1" fill="#d0e5f0"/><circle cx="301.9" cy="402.89" r="3.1" fill="#cde3ef"/><circle cx="299.3" cy="402.62" r="3.1" fill="#c7e0ed"/><circle cx="296.7" cy="402.35" r="3.1" fill="#cce3ef"/><circle cx="294.1" cy="402.08" r="3.1" fill="#c5dfec"/><circle cx="291.5" cy="401.8" r="3.1" fill="#bedbea"/><circle cx="288.9" cy="401.53" r="3.1" fill="#bcdaea"/><circle cx="286.3" cy="401.26" r="3.1" fill="#c2ddec"/><circle cx="283.7" cy="400.99" r="3.1" fill="#b6d7e8"/><circle cx="281.1" cy="400.72" r="3.1" fill="#b6d7e8"/><circle cx="278.5" cy="400.45" r="3.1" fill="#bcdaea"/><circle cx="275.9" cy="400.17" r="3.1" fill="#b9d9e9"/><circle cx="273.3" cy="399.9" r="3.1" fill="#b9d9e9"/><circle cx="270.7" cy="399.63" r="3.1" fill="#bad9e9"/><circle cx="268.1" cy="399.36" r="3.1" fill="#add3e6"/><circle cx="265.5" cy="399.09" r="3.1" fill="#b3d6e7"/><circle cx="262.9" cy="398.82" r="3.1" fill="#acd2e5"/><circle cx="260.3" cy="398.54" r="3.1" fill="#b4d6e8"/><circle cx="257.7" cy="398.27" r="3.1" fill="#b3d6e8"/><circle cx="255.1" cy="398" r="3.1" fill="#a7d0e4"/><circle cx="252.5" cy="397.73" r="3.1" fill="#a6cfe4"/><circle cx="249.9" cy="397.46" r="3.1" fill="#a1cce2"/><circle cx="247.3" cy="397.18" r="3.1" fill="#a2cde3"/><circle cx="244.7" cy="396.91" r="3.1" fill="#a1cde2"/><circle cx="242.1" cy="396.64" r="3.1" fill="#9ccae1"/><circle cx="239.5" cy="396.37" r="3.1" fill="#a2cde3"/><circle cx="236.9" cy="396.1" r="3.1" fill="#9ac9e0"/><circle cx="234.3" cy="395.83" r="3.1" fill="#98c8e0"/><circle cx="231.7" cy="395.55" r="3.1" fill="#9ac9e0"/><circle cx="229.1" cy="395.28" r="3.1" fill="#92c5de"/><circle cx="226.5" cy="395.01" r="3.1" fill="#94c6de"/><circle cx="223.9" cy="394.74" r="3.1" fill="#8fc3dd"/><circle cx="221.3" cy="394.47" r="3.1" fill="#8fc3dd"/><circle cx="218.7" cy="394.2" r="3.1" fill="#8dc2dc"/><circle cx="216.1" cy="393.92" r="3.1" fill="#8bc0dc"/><circle cx="213.5" cy="393.65" r="3.1" fill="#86bdda"/><circle cx="210.9" cy="393.38" r="3.1" fill="#7eb9d7"/><circle cx="208.3" cy="393.11" r="3.1" fill="#7eb8d7"/><circle cx="205.7" cy="392.84" r="3.1" fill="#7eb8d7"/><circle cx="203.1" cy="392.56" r="3.1" fill="#7db8d7"/><circle cx="200.5" cy="392.29" r="3.1" fill="#84bcd9"/><circle cx="197.9" cy="392.02" r="3.1" fill="#78b5d5"/><circle cx="195.3" cy="391.75" r="3.1" fill="#82bbd9"/><circle cx="192.7" cy="391.48" r="3.1" fill="#84bcd9"/><circle cx="190.1" cy="391.21" r="3.1" fill="#7db8d7"/><circle cx="187.5" cy="390.93" r="3.1" fill="#78b5d5"/><circle cx="184.9" cy="390.66" r="3.1" fill="#7db8d7"/><circle cx="182.3" cy="390.39" r="3.1" fill="#76b4d5"/><circle cx="179.7" cy="390.12" r="3.1" fill="#7bb6d6"/><circle cx="177.1" cy="389.85" r="3.1" fill="#6eaed2"/><circle cx="174.5" cy="389.58" r="3.1" fill="#75b2d4"/><circle cx="171.9" cy="389.3" r="3.1" fill="#73b1d3"/><circle cx="169.3" cy="389.03" r="3.1" fill="#71b0d3"/><circle cx="166.7" cy="388.76" r="3.1" fill="#6badd1"/><circle cx="164.1" cy="388.49" r="3.1" fill="#6aacd0"/><circle cx="161.5" cy="388.22" r="3.1" fill="#71b0d3"/><circle cx="158.9" cy="387.95" r="3.1" fill="#73b1d3"/><circle cx="156.3" cy="387.67" r="3.1" fill="#70b0d2"/><circle cx="153.7" cy="387.4" r="3.1" fill="#79b5d5"/><circle cx="151.1" cy="387.13" r="3.1" fill="#74b2d4"/><circle cx="148.5" cy="386.86" r="3.1" fill="#6daed1"/><circle cx="145.9" cy="386.59" r="3.1" fill="#6fafd2"/><circle cx="143.3" cy="386.31" r="3.1" fill="#7bb7d6"/><circle cx="140.7" cy="386.04" r="3.1" fill="#6fafd2"/><circle cx="351.3" cy="408.09" r="3.1" fill="#f7f7f7"/><circle cx="348.7" cy="407.84" r="3.1" fill="#f7f5f3"/><circle cx="346.1" cy="407.59" r="3.1" fill="#f7f5f4"/><circle cx="343.5" cy="407.34" r="3.1" fill="#f4f6f6"/><circle cx="340.9" cy="407.1" r="3.1" fill="#eef3f5"/><circle cx="338.3" cy="406.85" r="3.1" fill="#eff3f5"/><circle cx="335.7" cy="406.6" r="3.1" fill="#e8f0f4"/><circle cx="333.1" cy="406.35" r="3.1" fill="#e6eff4"/><circle cx="330.5" cy="406.11" r="3.1" fill="#e7eff4"/><circle cx="327.9" cy="405.86" r="3.1" fill="#e6eff4"/><circle cx="325.3" cy="405.61" r="3.1" fill="#e2edf3"/><circle cx="322.7" cy="405.37" r="3.1" fill="#e2edf3"/><circle cx="320.1" cy="405.12" r="3.1" fill="#e0ecf3"/><circle cx="317.5" cy="404.87" r="3.1" fill="#dceaf2"/><circle cx="314.9" cy="404.62" r="3.1" fill="#d8e8f1"/><circle cx="312.3" cy="404.38" r="3.1" fill="#d8e8f1"/><circle cx="309.7" cy="404.13" r="3.1" fill="#d9e9f1"/><circle cx="307.1" cy="403.88" r="3.1" fill="#d6e8f1"/><circle cx="304.5" cy="403.63" r="3.1" fill="#d4e6f1"/><circle cx="301.9" cy="403.39" r="3.1" fill="#d0e5f0"/><circle cx="299.3" cy="403.14" r="3.1" fill="#d3e6f0"/><circle cx="296.7" cy="402.89" r="3.1" fill="#d1e5f0"/><circle cx="294.1" cy="402.64" r="3.1" fill="#cce2ee"/><circle cx="291.5" cy="402.4" r="3.1" fill="#c9e1ee"/><circle cx="288.9" cy="402.15" r="3.1" fill="#c9e1ee"/><circle cx="286.3" cy="401.9" r="3.1" fill="#c0dceb"/><circle cx="283.7" cy="401.66" r="3.1" fill="#b9d9e9"/><circle cx="281.1" cy="401.41" r="3.1" fill="#bcdaea"/><circle cx="278.5" cy="401.16" r="3.1" fill="#b8d8e9"/><circle cx="275.9" cy="400.91" r="3.1" fill="#b5d7e8"/><circle cx="273.3" cy="400.67" r="3.1" fill="#b4d6e8"/><circle cx="270.7" cy="400.42" r="3.1" fill="#b2d5e7"/><circle cx="268.1" cy="400.17" r="3.1" fill="#b6d8e8"/><circle cx="265.5" cy="399.92" r="3.1" fill="#b2d5e7"/><circle cx="262.9" cy="399.68" r="3.1" fill="#b8d8e9"/><circle cx="260.3" cy="399.43" r="3.1" fill="#acd2e6"/><circle cx="257.7" cy="399.18" r="3.1" fill="#b0d4e7"/><circle cx="255.1" cy="398.93" r="3.1" fill="#add3e6"/><circle cx="252.5" cy="398.69" r="3.1" fill="#a5cfe4"/><circle cx="249.9" cy="398.44" r="3.1" fill="#aad1e5"/><circle cx="247.3" cy="398.19" r="3.1" fill="#a9d0e4"/><circle cx="244.7" cy="397.95" r="3.1" fill="#9ecbe1"/><circle cx="242.1" cy="397.7" r="3.1" fill="#9fcbe2"/><circle cx="239.5" cy="397.45" r="3.1" fill="#a3cee3"/><circle cx="236.9" cy="397.2" r="3.1" fill="#a2cde3"/><circle cx="234.3" cy="396.96" r="3.1" fill="#9ccae1"/><circle cx="231.7" cy="396.71" r="3.1" fill="#9ecbe2"/><circle cx="229.1" cy="396.46" r="3.1" fill="#92c5de"/><circle cx="226.5" cy="396.21" r="3.1" fill="#99c8e0"/><circle cx="223.9" cy="395.97" r="3.1" fill="#96c7df"/><circle cx="221.3" cy="395.72" r="3.1" fill="#93c5de"/><circle cx="218.7" cy="395.47" r="3.1" fill="#8fc3dd"/><circle cx="216.1" cy="395.22" r="3.1" fill="#8ec2dd"/><circle cx="213.5" cy="394.98" r="3.1" fill="#89bfdb"/><circle cx="210.9" cy="394.73" r="3.1" fill="#87beda"/><circle cx="208.3" cy="394.48" r="3.1" fill="#89bfdb"/><circle cx="205.7" cy="394.24" r="3.1" fill="#8dc2dc"/><circle cx="203.1" cy="393.99" r="3.1" fill="#7db8d7"/><circle cx="200.5" cy="393.74" r="3.1" fill="#80bad8"/><circle cx="197.9" cy="393.49" r="3.1" fill="#88bfdb"/><circle cx="195.3" cy="393.25" r="3.1" fill="#81bad8"/><circle cx="192.7" cy="393" r="3.1" fill="#7bb6d6"/><circle cx="190.1" cy="392.75" r="3.1" fill="#75b3d4"/><circle cx="187.5" cy="392.5" r="3.1" fill="#83bbd9"/><circle cx="184.9" cy="392.26" r="3.1" fill="#83bbd9"/><circle cx="182.3" cy="392.01" r="3.1" fill="#7bb6d6"/><circle cx="179.7" cy="391.76" r="3.1" fill="#7bb6d6"/><circle cx="177.1" cy="391.51" r="3.1" fill="#72b1d3"/><circle cx="174.5" cy="391.27" r="3.1" fill="#73b1d3"/><circle cx="171.9" cy="391.02" r="3.1" fill="#7ab6d6"/><circle cx="169.3" cy="390.77" r="3.1" fill="#78b4d5"/><circle cx="166.7" cy="390.52" r="3.1" fill="#75b3d4"/><circle cx="164.1" cy="390.28" r="3.1" fill="#70b0d2"/><circle cx="161.5" cy="390.03" r="3.1" fill="#7bb6d6"/><circle cx="158.9" cy="389.78" r="3.1" fill="#78b5d5"/><circle cx="156.3" cy="389.54" r="3.1" fill="#7db8d7"/><circle cx="153.7" cy="389.29" r="3.1" fill="#74b2d4"/><circle cx="151.1" cy="389.04" r="3.1" fill="#7eb8d7"/><circle cx="148.5" cy="388.79" r="3.1" fill="#6fafd2"/><circle cx="145.9" cy="388.55" r="3.1" fill="#76b4d5"/><circle cx="143.3" cy="388.3" r="3.1" fill="#76b3d5"/><circle cx="140.7" cy="388.05" r="3.1" fill="#7fb9d7"/><circle cx="351.3" cy="408.12" r="3.1" fill="#f8f3f1"/><circle cx="348.7" cy="407.89" r="3.1" fill="#f7f7f6"/><circle cx="346.1" cy="407.67" r="3.1" fill="#f7f6f6"/><circle cx="343.5" cy="407.45" r="3.1" fill="#f7f7f7"/><circle cx="340.9" cy="407.23" r="3.1" fill="#eff3f5"/><circle cx="338.3" cy="407" r="3.1" fill="#eef3f5"/><circle cx="335.7" cy="406.78" r="3.1" fill="#ebf1f5"/><circle cx="333.1" cy="406.56" r="3.1" fill="#eaf1f5"/><circle cx="330.5" cy="406.33" r="3.1" fill="#e8f0f4"/><circle cx="327.9" cy="406.11" r="3.1" fill="#e1edf3"/><circle cx="325.3" cy="405.89" r="3.1" fill="#e6eff4"/><circle cx="322.7" cy="405.66" r="3.1" fill="#e1ecf3"/><circle cx="320.1" cy="405.44" r="3.1" fill="#deebf2"/><circle cx="317.5" cy="405.22" r="3.1" fill="#deebf2"/><circle cx="314.9" cy="405" r="3.1" fill="#d9e9f1"/><circle cx="312.3" cy="404.77" r="3.1" fill="#d5e7f1"/><circle cx="309.7" cy="404.55" r="3.1" fill="#d4e6f0"/><circle cx="307.1" cy="404.33" r="3.1" fill="#d3e6f0"/><circle cx="304.5" cy="404.1" r="3.1" fill="#d5e7f1"/><circle cx="301.9" cy="403.88" r="3.1" fill="#d5e7f1"/><circle cx="299.3" cy="403.66" r="3.1" fill="#cfe4f0"/><circle cx="296.7" cy="403.44" r="3.1" fill="#cee3ef"/><circle cx="294.1" cy="403.21" r="3.1" fill="#cce2ef"/><circle cx="291.5" cy="402.99" r="3.1" fill="#c0dceb"/><circle cx="288.9" cy="402.77" r="3.1" fill="#c5dfed"/><circle cx="286.3" cy="402.54" r="3.1" fill="#bbdaea"/><circle cx="283.7" cy="402.32" r="3.1" fill="#b8d8e9"/><circle cx="281.1" cy="402.1" r="3.1" fill="#c1ddeb"/><circle cx="278.5" cy="401.88" r="3.1" fill="#b5d7e8"/><circle cx="275.9" cy="401.65" r="3.1" fill="#b9d9e9"/><circle cx="273.3" cy="401.43" r="3.1" fill="#bad9ea"/><circle cx="270.7" cy="401.21" r="3.1" fill="#b9d9e9"/><circle cx="268.1" cy="400.98" r="3.1" fill="#bad9e9"/><circle cx="265.5" cy="400.76" r="3.1" fill="#b3d6e7"/><circle cx="262.9" cy="400.54" r="3.1" fill="#b3d6e7"/><circle cx="260.3" cy="400.31" r="3.1" fill="#aad1e5"/><circle cx="257.7" cy="400.09" r="3.1" fill="#a8d0e4"/><circle cx="255.1" cy="399.87" r="3.1" fill="#b0d4e7"/><circle cx="252.5" cy="399.65" r="3.1" fill="#a9d1e5"/><circle cx="249.9" cy="399.42" r="3.1" fill="#a7d0e4"/><circle cx="247.3" cy="399.2" r="3.1" fill="#a7d0e4"/><circle cx="244.7" cy="398.98" r="3.1" fill="#a3cee3"/><circle cx="242.1" cy="398.75" r="3.1" fill="#a1cde2"/><circle cx="239.5" cy="398.53" r="3.1" fill="#9ac9e0"/><circle cx="236.9" cy="398.31" r="3.1" fill="#9ccae1"/><circle cx="234.3" cy="398.09" r="3.1" fill="#9dcbe1"/><circle cx="231.7" cy="397.86" r="3.1" fill="#9ac9e0"/><circle cx="229.1" cy="397.64" r="3.1" fill="#95c7df"/><circle cx="226.5" cy="397.42" r="3.1" fill="#92c5de"/><circle cx="223.9" cy="397.19" r="3.1" fill="#95c6df"/><circle cx="221.3" cy="396.97" r="3.1" fill="#8cc1dc"/><circle cx="218.7" cy="396.75" r="3.1" fill="#92c5de"/><circle cx="216.1" cy="396.53" r="3.1" fill="#89bfdb"/><circle cx="213.5" cy="396.3" r="3.1" fill="#88bfdb"/><circle cx="210.9" cy="396.08" r="3.1" fill="#8ec2dc"/><circle cx="208.3" cy="395.86" r="3.1" fill="#83bcd9"/><circle cx="205.7" cy="395.63" r="3.1" fill="#87beda"/><circle cx="203.1" cy="395.41" r="3.1" fill="#84bcd9"/><circle cx="200.5" cy="395.19" r="3.1" fill="#82bbd8"/><circle cx="197.9" cy="394.96" r="3.1" fill="#80b9d8"/><circle cx="195.3" cy="394.74" r="3.1" fill="#81bbd8"/><circle cx="192.7" cy="394.52" r="3.1" fill="#86beda"/><circle cx="190.1" cy="394.3" r="3.1" fill="#7ab6d6"/><circle cx="187.5" cy="394.07" r="3.1" fill="#77b4d5"/><circle cx="184.9" cy="393.85" r="3.1" fill="#7cb7d7"/><circle cx="182.3" cy="393.63" r="3.1" fill="#7ab6d6"/><circle cx="179.7" cy="393.4" r="3.1" fill="#7eb8d7"/><circle cx="177.1" cy="393.18" r="3.1" fill="#72b1d3"/><circle cx="174.5" cy="392.96" r="3.1" fill="#75b3d4"/><circle cx="171.9" cy="392.74" r="3.1" fill="#7bb6d6"/><circle cx="169.3" cy="392.51" r="3.1" fill="#71b0d3"/><circle cx="166.7" cy="392.29" r="3.1" fill="#6eaed2"/><circle cx="164.1" cy="392.07" r="3.1" fill="#78b4d5"/><circle cx="161.5" cy="391.84" r="3.1" fill="#6daed1"/><circle cx="351.3" cy="408.15" r="3.1" fill="#f8f3f1"/><circle cx="348.7" cy="407.95" r="3.1" fill="#f7f7f7"/><circle cx="346.1" cy="407.75" r="3.1" fill="#f7f7f7"/><circle cx="343.5" cy="407.55" r="3.1" fill="#f2f4f6"/><circle cx="340.9" cy="407.35" r="3.1" fill="#eff3f6"/><circle cx="338.3" cy="407.16" r="3.1" fill="#eff3f6"/><circle cx="335.7" cy="406.96" r="3.1" fill="#e9f0f4"/><circle cx="333.1" cy="406.76" r="3.1" fill="#e3edf3"/><circle cx="330.5" cy="406.56" r="3.1" fill="#e4eef3"/><circle cx="327.9" cy="406.36" r="3.1" fill="#e2edf3"/><circle cx="325.3" cy="406.16" r="3.1" fill="#ddebf2"/><circle cx="322.7" cy="405.96" r="3.1" fill="#dfecf3"/><circle cx="320.1" cy="405.77" r="3.1" fill="#ddeaf2"/><circle cx="317.5" cy="405.57" r="3.1" fill="#dae9f2"/><circle cx="314.9" cy="405.37" r="3.1" fill="#d5e7f1"/><circle cx="312.3" cy="405.17" r="3.1" fill="#d8e8f1"/><circle cx="309.7" cy="404.97" r="3.1" fill="#d7e8f1"/><circle cx="307.1" cy="404.77" r="3.1" fill="#cfe4ef"/><circle cx="304.5" cy="404.57" r="3.1" fill="#cfe4ef"/><circle cx="301.9" cy="404.38" r="3.1" fill="#cfe4ef"/><circle cx="299.3" cy="404.18" r="3.1" fill="#c4deec"/><circle cx="296.7" cy="403.98" r="3.1" fill="#c1ddeb"/><circle cx="294.1" cy="403.78" r="3.1" fill="#c2ddec"/><circle cx="291.5" cy="403.58" r="3.1" fill="#b9d9e9"/><circle cx="288.9" cy="403.38" r="3.1" fill="#b8d8e9"/><circle cx="286.3" cy="403.19" r="3.1" fill="#b7d8e8"/><circle cx="283.7" cy="402.99" r="3.1" fill="#badaea"/><circle cx="281.1" cy="402.79" r="3.1" fill="#bcdaea"/><circle cx="278.5" cy="402.59" r="3.1" fill="#b2d5e7"/><circle cx="275.9" cy="402.39" r="3.1" fill="#afd4e6"/><circle cx="273.3" cy="402.19" r="3.1" fill="#b2d5e7"/><circle cx="270.7" cy="401.99" r="3.1" fill="#afd4e6"/><circle cx="268.1" cy="401.8" r="3.1" fill="#acd2e6"/><circle cx="265.5" cy="401.6" r="3.1" fill="#afd4e6"/><circle cx="262.9" cy="401.4" r="3.1" fill="#a7d0e4"/><circle cx="260.3" cy="401.2" r="3.1" fill="#a7d0e4"/><circle cx="257.7" cy="401" r="3.1" fill="#a7d0e4"/><circle cx="255.1" cy="400.8" r="3.1" fill="#a8d0e4"/><circle cx="252.5" cy="400.6" r="3.1" fill="#a0cce2"/><circle cx="249.9" cy="400.41" r="3.1" fill="#a0cce2"/><circle cx="247.3" cy="400.21" r="3.1" fill="#99c8e0"/><circle cx="244.7" cy="400.01" r="3.1" fill="#9dcbe1"/><circle cx="242.1" cy="399.81" r="3.1" fill="#98c8e0"/><circle cx="239.5" cy="399.61" r="3.1" fill="#99c9e0"/><circle cx="236.9" cy="399.41" r="3.1" fill="#95c6df"/><circle cx="234.3" cy="399.22" r="3.1" fill="#90c4dd"/><circle cx="231.7" cy="399.02" r="3.1" fill="#95c6df"/><circle cx="229.1" cy="398.82" r="3.1" fill="#94c6de"/><circle cx="226.5" cy="398.62" r="3.1" fill="#8bc1dc"/><circle cx="223.9" cy="398.42" r="3.1" fill="#8ec2dd"/><circle cx="221.3" cy="398.22" r="3.1" fill="#88bfdb"/><circle cx="218.7" cy="398.02" r="3.1" fill="#8dc2dc"/><circle cx="216.1" cy="397.83" r="3.1" fill="#8ec2dd"/><circle cx="213.5" cy="397.63" r="3.1" fill="#86bdda"/><circle cx="210.9" cy="397.43" r="3.1" fill="#7fb9d7"/><circle cx="208.3" cy="397.23" r="3.1" fill="#7eb8d7"/><circle cx="205.7" cy="397.03" r="3.1" fill="#82bbd9"/><circle cx="203.1" cy="396.83" r="3.1" fill="#83bbd9"/><circle cx="200.5" cy="396.63" r="3.1" fill="#87beda"/><circle cx="197.9" cy="396.44" r="3.1" fill="#82bbd8"/><circle cx="195.3" cy="396.24" r="3.1" fill="#80b9d8"/><circle cx="192.7" cy="396.04" r="3.1" fill="#74b2d4"/><circle cx="190.1" cy="395.84" r="3.1" fill="#7fb9d8"/><circle cx="187.5" cy="395.64" r="3.1" fill="#71b0d3"/><circle cx="184.9" cy="395.44" r="3.1" fill="#77b4d5"/><circle cx="182.3" cy="395.25" r="3.1" fill="#76b3d5"/><circle cx="179.7" cy="395.05" r="3.1" fill="#78b4d5"/><circle cx="351.3" cy="408.18" r="3.1" fill="#f7f6f5"/><circle cx="348.7" cy="408" r="3.1" fill="#f4f6f6"/><circle cx="346.1" cy="407.83" r="3.1" fill="#f2f5f6"/><circle cx="343.5" cy="407.66" r="3.1" fill="#f2f4f6"/><circle cx="340.9" cy="407.48" r="3.1" fill="#eef3f5"/><circle cx="338.3" cy="407.31" r="3.1" fill="#e5eef4"/><circle cx="335.7" cy="407.13" r="3.1" fill="#e3edf3"/><circle cx="333.1" cy="406.96" r="3.1" fill="#dfecf3"/><circle cx="330.5" cy="406.79" r="3.1" fill="#dceaf2"/><circle cx="327.9" cy="406.61" r="3.1" fill="#e1ecf3"/><circle cx="325.3" cy="406.44" r="3.1" fill="#dae9f2"/><circle cx="322.7" cy="406.26" r="3.1" fill="#d8e8f1"/><circle cx="320.1" cy="406.09" r="3.1" fill="#dae9f2"/><circle cx="317.5" cy="405.92" r="3.1" fill="#d6e7f1"/><circle cx="314.9" cy="405.74" r="3.1" fill="#cfe4ef"/><circle cx="312.3" cy="405.57" r="3.1" fill="#d3e6f0"/><circle cx="309.7" cy="405.39" r="3.1" fill="#cbe2ee"/><circle cx="307.1" cy="405.22" r="3.1" fill="#cfe4ef"/><circle cx="304.5" cy="405.05" r="3.1" fill="#c5dfed"/><circle cx="301.9" cy="404.87" r="3.1" fill="#c7e0ed"/><circle cx="299.3" cy="404.7" r="3.1" fill="#c1ddeb"/><circle cx="296.7" cy="404.52" r="3.1" fill="#bfdceb"/><circle cx="294.1" cy="404.35" r="3.1" fill="#b6d7e8"/><circle cx="291.5" cy="404.18" r="3.1" fill="#b4d6e8"/><circle cx="288.9" cy="404" r="3.1" fill="#b4d6e8"/><circle cx="286.3" cy="403.83" r="3.1" fill="#afd4e6"/><circle cx="283.7" cy="403.65" r="3.1" fill="#b0d4e7"/><circle cx="281.1" cy="403.48" r="3.1" fill="#a9d1e5"/><circle cx="278.5" cy="403.3" r="3.1" fill="#aed3e6"/><circle cx="275.9" cy="403.13" r="3.1" fill="#a8d0e4"/><circle cx="273.3" cy="402.96" r="3.1" fill="#a6cfe4"/><circle cx="270.7" cy="402.78" r="3.1" fill="#a7cfe4"/><circle cx="268.1" cy="402.61" r="3.1" fill="#a9d1e5"/><circle cx="265.5" cy="402.43" r="3.1" fill="#a6cfe4"/><circle cx="262.9" cy="402.26" r="3.1" fill="#9ecbe1"/><circle cx="260.3" cy="402.09" r="3.1" fill="#a1cde2"/><circle cx="257.7" cy="401.91" r="3.1" fill="#98c8e0"/><circle cx="255.1" cy="401.74" r="3.1" fill="#99c9e0"/><circle cx="252.5" cy="401.56" r="3.1" fill="#91c4de"/><circle cx="249.9" cy="401.39" r="3.1" fill="#8fc3dd"/><circle cx="247.3" cy="401.22" r="3.1" fill="#8ec2dd"/><circle cx="244.7" cy="401.04" r="3.1" fill="#90c4dd"/><circle cx="242.1" cy="400.87" r="3.1" fill="#93c5de"/><circle cx="239.5" cy="400.69" r="3.1" fill="#89bfdb"/><circle cx="236.9" cy="400.52" r="3.1" fill="#84bcd9"/><circle cx="234.3" cy="400.35" r="3.1" fill="#7fb9d7"/><circle cx="231.7" cy="400.17" r="3.1" fill="#88bfdb"/><circle cx="229.1" cy="400" r="3.1" fill="#88bfdb"/><circle cx="226.5" cy="399.82" r="3.1" fill="#7bb6d6"/><circle cx="223.9" cy="399.65" r="3.1" fill="#7fb9d8"/><circle cx="221.3" cy="399.47" r="3.1" fill="#84bcd9"/><circle cx="218.7" cy="399.3" r="3.1" fill="#81bad8"/><circle cx="216.1" cy="399.13" r="3.1" fill="#89bfdb"/><circle cx="213.5" cy="398.95" r="3.1" fill="#82bbd8"/><circle cx="210.9" cy="398.78" r="3.1" fill="#7eb8d7"/><circle cx="208.3" cy="398.6" r="3.1" fill="#7eb8d7"/><circle cx="205.7" cy="398.43" r="3.1" fill="#83bbd9"/><circle cx="203.1" cy="398.26" r="3.1" fill="#81bbd8"/><circle cx="200.5" cy="398.08" r="3.1" fill="#78b4d5"/><circle cx="197.9" cy="397.91" r="3.1" fill="#72b1d3"/><circle cx="195.3" cy="397.73" r="3.1" fill="#7bb7d6"/><circle cx="192.7" cy="397.56" r="3.1" fill="#7bb7d6"/><circle cx="351.3" cy="408.21" r="3.1" fill="#f8f4f3"/><circle cx="348.7" cy="408.06" r="3.1" fill="#f8f3f1"/><circle cx="346.1" cy="407.91" r="3.1" fill="#f7f6f4"/><circle cx="343.5" cy="407.76" r="3.1" fill="#f2f5f6"/><circle cx="340.9" cy="407.61" r="3.1" fill="#f2f4f6"/><circle cx="338.3" cy="407.46" r="3.1" fill="#f1f4f6"/><circle cx="335.7" cy="407.31" r="3.1" fill="#eaf1f5"/><circle cx="333.1" cy="407.16" r="3.1" fill="#ebf1f5"/><circle cx="330.5" cy="407.01" r="3.1" fill="#e7eff4"/><circle cx="327.9" cy="406.86" r="3.1" fill="#e2edf3"/><circle cx="325.3" cy="406.71" r="3.1" fill="#e4eef4"/><circle cx="322.7" cy="406.56" r="3.1" fill="#e3eef3"/><circle cx="320.1" cy="406.41" r="3.1" fill="#deebf2"/><circle cx="317.5" cy="406.26" r="3.1" fill="#ddebf2"/><circle cx="314.9" cy="406.11" r="3.1" fill="#d6e7f1"/><circle cx="312.3" cy="405.96" r="3.1" fill="#dae9f2"/><circle cx="309.7" cy="405.82" r="3.1" fill="#d3e6f0"/><circle cx="307.1" cy="405.67" r="3.1" fill="#d4e6f1"/><circle cx="304.5" cy="405.52" r="3.1" fill="#cde3ef"/><circle cx="301.9" cy="405.37" r="3.1" fill="#cee4ef"/><circle cx="299.3" cy="405.22" r="3.1" fill="#c8e0ed"/><circle cx="296.7" cy="405.07" r="3.1" fill="#c9e1ee"/><circle cx="294.1" cy="404.92" r="3.1" fill="#c7e0ed"/><circle cx="291.5" cy="404.77" r="3.1" fill="#c0ddeb"/><circle cx="288.9" cy="404.62" r="3.1" fill="#b9d9e9"/><circle cx="286.3" cy="404.47" r="3.1" fill="#bcdaea"/><circle cx="283.7" cy="404.32" r="3.1" fill="#bbdaea"/><circle cx="281.1" cy="404.17" r="3.1" fill="#b6d8e8"/><circle cx="278.5" cy="404.02" r="3.1" fill="#b8d8e9"/><circle cx="275.9" cy="403.87" r="3.1" fill="#b3d6e8"/><circle cx="273.3" cy="403.72" r="3.1" fill="#aed3e6"/><circle cx="270.7" cy="403.57" r="3.1" fill="#add3e6"/><circle cx="268.1" cy="403.42" r="3.1" fill="#abd1e5"/><circle cx="265.5" cy="403.27" r="3.1" fill="#add3e6"/><circle cx="262.9" cy="403.12" r="3.1" fill="#aed3e6"/><circle cx="260.3" cy="402.97" r="3.1" fill="#acd2e5"/><circle cx="257.7" cy="402.82" r="3.1" fill="#a6cfe4"/><circle cx="255.1" cy="402.67" r="3.1" fill="#a5cfe3"/><circle cx="252.5" cy="402.52" r="3.1" fill="#9ecbe1"/><circle cx="249.9" cy="402.37" r="3.1" fill="#9fcce2"/><circle cx="247.3" cy="402.22" r="3.1" fill="#96c7df"/><circle cx="244.7" cy="402.07" r="3.1" fill="#95c6df"/><circle cx="242.1" cy="401.92" r="3.1" fill="#92c5de"/><circle cx="239.5" cy="401.77" r="3.1" fill="#90c3dd"/><circle cx="236.9" cy="401.62" r="3.1" fill="#92c5de"/><circle cx="234.3" cy="401.47" r="3.1" fill="#93c6de"/><circle cx="231.7" cy="401.33" r="3.1" fill="#95c7df"/><circle cx="229.1" cy="401.18" r="3.1" fill="#99c9e0"/><circle cx="226.5" cy="401.03" r="3.1" fill="#90c4dd"/><circle cx="223.9" cy="400.88" r="3.1" fill="#95c6df"/><circle cx="221.3" cy="400.73" r="3.1" fill="#9ac9e0"/><circle cx="218.7" cy="400.58" r="3.1" fill="#90c3dd"/><circle cx="216.1" cy="400.43" r="3.1" fill="#94c6de"/><circle cx="213.5" cy="400.28" r="3.1" fill="#92c5de"/><circle cx="210.9" cy="400.13" r="3.1" fill="#93c5de"/><circle cx="208.3" cy="399.98" r="3.1" fill="#95c7df"/><circle cx="205.7" cy="399.83" r="3.1" fill="#86bdda"/><circle cx="351.3" cy="408.24" r="3.1" fill="#f8f3ef"/><circle cx="348.7" cy="408.12" r="3.1" fill="#f7f7f7"/><circle cx="346.1" cy="407.99" r="3.1" fill="#f8f4f2"/><circle cx="343.5" cy="407.87" r="3.1" fill="#f5f6f7"/><circle cx="340.9" cy="407.74" r="3.1" fill="#f2f4f6"/><circle cx="338.3" cy="407.61" r="3.1" fill="#f0f4f6"/><circle cx="335.7" cy="407.49" r="3.1" fill="#e7eff4"/><circle cx="333.1" cy="407.36" r="3.1" fill="#e7eff4"/><circle cx="330.5" cy="407.24" r="3.1" fill="#e8f0f4"/><circle cx="327.9" cy="407.11" r="3.1" fill="#e2edf3"/><circle cx="325.3" cy="406.99" r="3.1" fill="#e4eef3"/><circle cx="322.7" cy="406.86" r="3.1" fill="#ddebf2"/><circle cx="320.1" cy="406.74" r="3.1" fill="#dae9f2"/><circle cx="317.5" cy="406.61" r="3.1" fill="#d7e8f1"/><circle cx="314.9" cy="406.49" r="3.1" fill="#dceaf2"/><circle cx="312.3" cy="406.36" r="3.1" fill="#d5e7f1"/><circle cx="309.7" cy="406.24" r="3.1" fill="#d5e7f1"/><circle cx="307.1" cy="406.11" r="3.1" fill="#d2e5f0"/><circle cx="304.5" cy="405.99" r="3.1" fill="#d1e5f0"/><circle cx="301.9" cy="405.86" r="3.1" fill="#cde3ef"/><circle cx="299.3" cy="405.74" r="3.1" fill="#cce2ee"/><circle cx="296.7" cy="405.61" r="3.1" fill="#c2ddec"/><circle cx="294.1" cy="405.49" r="3.1" fill="#c5dfed"/><circle cx="291.5" cy="405.36" r="3.1" fill="#b7d8e8"/><circle cx="288.9" cy="405.23" r="3.1" fill="#bfdceb"/><circle cx="286.3" cy="405.11" r="3.1" fill="#b1d5e7"/><circle cx="283.7" cy="404.98" r="3.1" fill="#b8d8e9"/><circle cx="281.1" cy="404.86" r="3.1" fill="#b7d8e9"/><circle cx="278.5" cy="404.73" r="3.1" fill="#add3e6"/><circle cx="275.9" cy="404.61" r="3.1" fill="#add3e6"/><circle cx="273.3" cy="404.48" r="3.1" fill="#a9d1e4"/><circle cx="270.7" cy="404.36" r="3.1" fill="#aad1e5"/><circle cx="268.1" cy="404.23" r="3.1" fill="#a7d0e4"/><circle cx="265.5" cy="404.11" r="3.1" fill="#acd2e5"/><circle cx="262.9" cy="403.98" r="3.1" fill="#a3cee3"/><circle cx="260.3" cy="403.86" r="3.1" fill="#a2cde3"/><circle cx="257.7" cy="403.73" r="3.1" fill="#9ac9e0"/><circle cx="255.1" cy="403.61" r="3.1" fill="#a3cee3"/><circle cx="252.5" cy="403.48" r="3.1" fill="#a0cce2"/><circle cx="249.9" cy="403.36" r="3.1" fill="#96c7df"/><circle cx="247.3" cy="403.23" r="3.1" fill="#90c4dd"/><circle cx="244.7" cy="403.11" r="3.1" fill="#95c7df"/><circle cx="242.1" cy="402.98" r="3.1" fill="#90c4dd"/><circle cx="239.5" cy="402.86" r="3.1" fill="#93c5de"/><circle cx="236.9" cy="402.73" r="3.1" fill="#95c7df"/><circle cx="234.3" cy="402.6" r="3.1" fill="#95c7df"/><circle cx="231.7" cy="402.48" r="3.1" fill="#94c6df"/><circle cx="229.1" cy="402.35" r="3.1" fill="#9ccae1"/><circle cx="226.5" cy="402.23" r="3.1" fill="#99c9e0"/><circle cx="223.9" cy="402.1" r="3.1" fill="#94c6df"/><circle cx="221.3" cy="401.98" r="3.1" fill="#9ac9e0"/><circle cx="218.7" cy="401.85" r="3.1" fill="#98c8e0"/><circle cx="216.1" cy="401.73" r="3.1" fill="#9ac9e0"/><circle cx="351.3" cy="408.27" r="3.1" fill="#f7f5f4"/><circle cx="348.7" cy="408.17" r="3.1" fill="#f7f7f7"/><circle cx="346.1" cy="408.07" r="3.1" fill="#f3f5f6"/><circle cx="343.5" cy="407.97" r="3.1" fill="#f3f5f6"/><circle cx="340.9" cy="407.87" r="3.1" fill="#f2f5f6"/><circle cx="338.3" cy="407.77" r="3.1" fill="#edf2f5"/><circle cx="335.7" cy="407.67" r="3.1" fill="#ebf1f5"/><circle cx="333.1" cy="407.57" r="3.1" fill="#e6eff4"/><circle cx="330.5" cy="407.47" r="3.1" fill="#e1edf3"/><circle cx="327.9" cy="407.36" r="3.1" fill="#dfecf3"/><circle cx="325.3" cy="407.26" r="3.1" fill="#e0ecf3"/><circle cx="322.7" cy="407.16" r="3.1" fill="#dfebf3"/><circle cx="320.1" cy="407.06" r="3.1" fill="#deebf2"/><circle cx="317.5" cy="406.96" r="3.1" fill="#dbeaf2"/><circle cx="314.9" cy="406.86" r="3.1" fill="#d6e7f1"/><circle cx="312.3" cy="406.76" r="3.1" fill="#d6e7f1"/><circle cx="309.7" cy="406.66" r="3.1" fill="#cde3ef"/><circle cx="307.1" cy="406.56" r="3.1" fill="#cde3ef"/><circle cx="304.5" cy="406.46" r="3.1" fill="#cce3ef"/><circle cx="301.9" cy="406.36" r="3.1" fill="#c8e0ed"/><circle cx="299.3" cy="406.26" r="3.1" fill="#c9e1ee"/><circle cx="296.7" cy="406.15" r="3.1" fill="#bcdaea"/><circle cx="294.1" cy="406.05" r="3.1" fill="#b8d9e9"/><circle cx="291.5" cy="405.95" r="3.1" fill="#bad9e9"/><circle cx="288.9" cy="405.85" r="3.1" fill="#b1d5e7"/><circle cx="286.3" cy="405.75" r="3.1" fill="#b5d7e8"/><circle cx="283.7" cy="405.65" r="3.1" fill="#b3d6e7"/><circle cx="281.1" cy="405.55" r="3.1" fill="#b1d5e7"/><circle cx="278.5" cy="405.45" r="3.1" fill="#afd4e6"/><circle cx="275.9" cy="405.35" r="3.1" fill="#a8d0e4"/><circle cx="273.3" cy="405.25" r="3.1" fill="#a6cfe4"/><circle cx="270.7" cy="405.15" r="3.1" fill="#a3cee3"/><circle cx="268.1" cy="405.05" r="3.1" fill="#a9d1e5"/><circle cx="265.5" cy="404.94" r="3.1" fill="#9fcce2"/><circle cx="262.9" cy="404.84" r="3.1" fill="#a1cde2"/><circle cx="260.3" cy="404.74" r="3.1" fill="#a0cce2"/><circle cx="257.7" cy="404.64" r="3.1" fill="#9ccae1"/><circle cx="255.1" cy="404.54" r="3.1" fill="#9bcae1"/><circle cx="252.5" cy="404.44" r="3.1" fill="#9dcae1"/><circle cx="249.9" cy="404.34" r="3.1" fill="#99c8e0"/><circle cx="247.3" cy="404.24" r="3.1" fill="#94c6df"/><circle cx="244.7" cy="404.14" r="3.1" fill="#92c5de"/><circle cx="242.1" cy="404.04" r="3.1" fill="#8fc3dd"/><circle cx="239.5" cy="403.94" r="3.1" fill="#99c8e0"/><circle cx="236.9" cy="403.84" r="3.1" fill="#90c4dd"/><circle cx="234.3" cy="403.73" r="3.1" fill="#92c5de"/><circle cx="231.7" cy="403.63" r="3.1" fill="#94c6de"/><circle cx="229.1" cy="403.53" r="3.1" fill="#91c4de"/><circle cx="226.5" cy="403.43" r="3.1" fill="#9ccae1"/><circle cx="223.9" cy="403.33" r="3.1" fill="#94c6df"/><circle cx="351.3" cy="408.3" r="3.1" fill="#f7f5f4"/><circle cx="348.7" cy="408.23" r="3.1" fill="#f4f6f6"/><circle cx="346.1" cy="408.15" r="3.1" fill="#eff3f5"/><circle cx="343.5" cy="408.07" r="3.1" fill="#f1f4f6"/><circle cx="340.9" cy="408" r="3.1" fill="#e9f0f4"/><circle cx="338.3" cy="407.92" r="3.1" fill="#e4eef4"/><circle cx="335.7" cy="407.84" r="3.1" fill="#e4eef3"/><circle cx="333.1" cy="407.77" r="3.1" fill="#e2edf3"/><circle cx="330.5" cy="407.69" r="3.1" fill="#dfecf3"/><circle cx="327.9" cy="407.62" r="3.1" fill="#d9e9f1"/><circle cx="325.3" cy="407.54" r="3.1" fill="#dae9f2"/><circle cx="322.7" cy="407.46" r="3.1" fill="#d9e9f1"/><circle cx="320.1" cy="407.39" r="3.1" fill="#d7e8f1"/><circle cx="317.5" cy="407.31" r="3.1" fill="#d0e5f0"/><circle cx="314.9" cy="407.23" r="3.1" fill="#d3e6f0"/><circle cx="312.3" cy="407.16" r="3.1" fill="#d3e6f0"/><circle cx="309.7" cy="407.08" r="3.1" fill="#c4deec"/><circle cx="307.1" cy="407" r="3.1" fill="#c8e0ed"/><circle cx="304.5" cy="406.93" r="3.1" fill="#c3deec"/><circle cx="301.9" cy="406.85" r="3.1" fill="#b8d8e9"/><circle cx="299.3" cy="406.77" r="3.1" fill="#bddbea"/><circle cx="296.7" cy="406.7" r="3.1" fill="#bcdaea"/><circle cx="294.1" cy="406.62" r="3.1" fill="#aed3e6"/><circle cx="291.5" cy="406.55" r="3.1" fill="#b2d5e7"/><circle cx="288.9" cy="406.47" r="3.1" fill="#afd4e6"/><circle cx="286.3" cy="406.39" r="3.1" fill="#a3cee3"/><circle cx="283.7" cy="406.32" r="3.1" fill="#aad1e5"/><circle cx="281.1" cy="406.24" r="3.1" fill="#9fcce2"/><circle cx="278.5" cy="406.16" r="3.1" fill="#a4cee3"/><circle cx="275.9" cy="406.09" r="3.1" fill="#a3cde3"/><circle cx="273.3" cy="406.01" r="3.1" fill="#a2cde3"/><circle cx="270.7" cy="405.93" r="3.1" fill="#9ccae1"/><circle cx="268.1" cy="405.86" r="3.1" fill="#9ac9e0"/><circle cx="265.5" cy="405.78" r="3.1" fill="#9bc9e0"/><circle cx="262.9" cy="405.7" r="3.1" fill="#98c8e0"/><circle cx="260.3" cy="405.63" r="3.1" fill="#99c8e0"/><circle cx="257.7" cy="405.55" r="3.1" fill="#90c4dd"/><circle cx="255.1" cy="405.48" r="3.1" fill="#8ec2dc"/><circle cx="252.5" cy="405.4" r="3.1" fill="#8fc3dd"/><circle cx="249.9" cy="405.32" r="3.1" fill="#8dc2dc"/><circle cx="247.3" cy="405.25" r="3.1" fill="#97c8df"/><circle cx="244.7" cy="405.17" r="3.1" fill="#95c6df"/><circle cx="242.1" cy="405.09" r="3.1" fill="#95c7df"/><circle cx="239.5" cy="405.02" r="3.1" fill="#96c7df"/><circle cx="236.9" cy="404.94" r="3.1" fill="#8ac0db"/><circle cx="234.3" cy="404.86" r="3.1" fill="#8cc1dc"/><circle cx="351.3" cy="408.33" r="3.1" fill="#f6f6f7"/><circle cx="348.7" cy="408.28" r="3.1" fill="#f7f7f6"/><circle cx="346.1" cy="408.23" r="3.1" fill="#f2f5f6"/><circle cx="343.5" cy="408.18" r="3.1" fill="#f2f5f6"/><circle cx="340.9" cy="408.13" r="3.1" fill="#e8f0f4"/><circle cx="338.3" cy="408.07" r="3.1" fill="#e9f0f4"/><circle cx="335.7" cy="408.02" r="3.1" fill="#e4eef4"/><circle cx="333.1" cy="407.97" r="3.1" fill="#dbeaf2"/><circle cx="330.5" cy="407.92" r="3.1" fill="#dfebf3"/><circle cx="327.9" cy="407.87" r="3.1" fill="#d7e8f1"/><circle cx="325.3" cy="407.81" r="3.1" fill="#dae9f2"/><circle cx="322.7" cy="407.76" r="3.1" fill="#d6e7f1"/><circle cx="320.1" cy="407.71" r="3.1" fill="#d8e9f1"/><circle cx="317.5" cy="407.66" r="3.1" fill="#d0e4f0"/><circle cx="314.9" cy="407.61" r="3.1" fill="#d1e5f0"/><circle cx="312.3" cy="407.55" r="3.1" fill="#cee4ef"/><circle cx="309.7" cy="407.5" r="3.1" fill="#c6dfed"/><circle cx="307.1" cy="407.45" r="3.1" fill="#c3deec"/><circle cx="304.5" cy="407.4" r="3.1" fill="#c3deec"/><circle cx="301.9" cy="407.35" r="3.1" fill="#c1ddeb"/><circle cx="299.3" cy="407.29" r="3.1" fill="#b7d8e9"/><circle cx="296.7" cy="407.24" r="3.1" fill="#bad9ea"/><circle cx="294.1" cy="407.19" r="3.1" fill="#acd2e5"/><circle cx="291.5" cy="407.14" r="3.1" fill="#afd4e6"/><circle cx="288.9" cy="407.09" r="3.1" fill="#add3e6"/><circle cx="286.3" cy="407.03" r="3.1" fill="#a8d0e4"/><circle cx="283.7" cy="406.98" r="3.1" fill="#a9d1e5"/><circle cx="281.1" cy="406.93" r="3.1" fill="#a4cee3"/><circle cx="278.5" cy="406.88" r="3.1" fill="#9fcce2"/><circle cx="275.9" cy="406.83" r="3.1" fill="#9fcce2"/><circle cx="273.3" cy="406.77" r="3.1" fill="#9fcbe2"/><circle cx="270.7" cy="406.72" r="3.1" fill="#9dcbe1"/><circle cx="268.1" cy="406.67" r="3.1" fill="#99c9e0"/><circle cx="265.5" cy="406.62" r="3.1" fill="#94c6de"/><circle cx="262.9" cy="406.57" r="3.1" fill="#96c7df"/><circle cx="260.3" cy="406.51" r="3.1" fill="#91c4de"/><circle cx="257.7" cy="406.46" r="3.1" fill="#94c6df"/><circle cx="255.1" cy="406.41" r="3.1" fill="#99c8e0"/><circle cx="252.5" cy="406.36" r="3.1" fill="#98c8e0"/><circle cx="249.9" cy="406.31" r="3.1" fill="#8ec3dd"/><circle cx="247.3" cy="406.25" r="3.1" fill="#94c6df"/><circle cx="244.7" cy="406.2" r="3.1" fill="#96c7df"/><circle cx="242.1" cy="406.15" r="3.1" fill="#95c6df"/><circle cx="239.5" cy="406.1" r="3.1" fill="#90c4dd"/><circle cx="244" cy="406.71" r="3.1" fill="#a8d0e4"/><circle cx="241.4" cy="406.23" r="3.1" fill="#a7cfe4"/><circle cx="238.8" cy="405.76" r="3.1" fill="#a4cee3"/><circle cx="236.2" cy="405.29" r="3.1" fill="#a5cfe4"/><circle cx="233.6" cy="404.82" r="3.1" fill="#a1cde2"/><circle cx="231" cy="404.34" r="3.1" fill="#a0cce2"/><circle cx="228.4" cy="403.87" r="3.1" fill="#9fcce2"/><circle cx="225.8" cy="403.4" r="3.1" fill="#9fcbe2"/><circle cx="223.2" cy="402.92" r="3.1" fill="#9ecbe1"/><circle cx="220.6" cy="402.45" r="3.1" fill="#9bcae1"/><circle cx="218" cy="401.98" r="3.1" fill="#9dcbe1"/><circle cx="215.4" cy="401.5" r="3.1" fill="#95c7df"/><circle cx="212.8" cy="401.03" r="3.1" fill="#97c8e0"/><circle cx="210.2" cy="400.56" r="3.1" fill="#8fc3dd"/><circle cx="207.6" cy="400.08" r="3.1" fill="#91c4dd"/><circle cx="205" cy="399.61" r="3.1" fill="#88bfdb"/><circle cx="202.4" cy="399.14" r="3.1" fill="#88bfdb"/><circle cx="199.8" cy="398.66" r="3.1" fill="#86bdda"/><circle cx="197.2" cy="398.19" r="3.1" fill="#7fb9d7"/><circle cx="194.6" cy="397.72" r="3.1" fill="#79b5d5"/><circle cx="192" cy="397.24" r="3.1" fill="#75b3d4"/><circle cx="189.4" cy="396.77" r="3.1" fill="#71b0d3"/><circle cx="186.8" cy="396.3" r="3.1" fill="#6fafd2"/><circle cx="184.2" cy="395.82" r="3.1" fill="#76b3d4"/><circle cx="181.6" cy="395.35" r="3.1" fill="#72b1d3"/><circle cx="179" cy="394.88" r="3.1" fill="#74b2d4"/><circle cx="176.4" cy="394.4" r="3.1" fill="#6eaed2"/><circle cx="173.8" cy="393.93" r="3.1" fill="#70afd2"/><circle cx="171.2" cy="393.46" r="3.1" fill="#6dadd1"/><circle cx="168.6" cy="392.99" r="3.1" fill="#6cadd1"/><circle cx="166" cy="392.51" r="3.1" fill="#6aacd0"/><circle cx="163.4" cy="392.04" r="3.1" fill="#6cadd1"/><circle cx="160.8" cy="391.57" r="3.1" fill="#6aacd0"/><circle cx="158.2" cy="391.09" r="3.1" fill="#6cadd1"/><circle cx="155.6" cy="390.62" r="3.1" fill="#6fafd2"/><circle cx="153" cy="390.15" r="3.1" fill="#68abd0"/><circle cx="150.4" cy="389.67" r="3.1" fill="#6eaed2"/><circle cx="147.8" cy="389.2" r="3.1" fill="#6fafd2"/>
<polygon points="150.5,497.9 159.55,493.6 168.35,491.7 178.25,486.75 187.05,486 196.95,482.35 206.3,481.6 215.65,475.75 225.55,473.9 234.9,467.3 244.4,464 254.2,457.3 263.3,453.8 272.9,445.5 282.1,440.7 292.5,430.9 301.7,428.7 311.7,426.75 321.7,427 330.9,431 339.6,433.75 349.6,440.7 359.2,442.9 368.3,445.8 377.9,452.1 387.5,454.3 396.7,457.1 406.7,458.75 416.25,460.7 425.8,462.3 435,462.5 445,465.4 454.2,467.1 463.3,468.3 473.3,469.75 482.5,471.25 491.7,471.8 500.8,471.4 510.8,470.7 520,469.8 530,471.2 539.6,473.5 549.6,477.2 558.75,478.5 568.75,482.4 577.9,484.7 587.5,490.3 597.1,492 606.7,493.8 615.8,493 625,491.2 635,489.75 645,488.8 654.6,488.25 664.2,485.5 673.3,484.1 682.5,480.3 692.1,478.25 702.1,476.2 711.7,472.7 720.5,471.1 730,465.4 739.6,463.2 749.2,456.25 758.3,452.7 768.3,446.7 777.9,443.3 787.1,438.3 797.1,436.7 806.9,437.5 816,439.1 826,448 835,450.1 845,456 854.1,459 863.6,468.1 873.1,470 882.6,476 893.57,477.1 893.57,536.9 150.5,536.9" fill="#000"/>
<polyline points="150.5,497.9 159.55,493.6 168.35,491.7 178.25,486.75 187.05,486 196.95,482.35 206.3,481.6 215.65,475.75 225.55,473.9 234.9,467.3 244.4,464 254.2,457.3 263.3,453.8 272.9,445.5 282.1,440.7 292.5,430.9 301.7,428.7 311.7,426.75 321.7,427 330.9,431 339.6,433.75 349.6,440.7 359.2,442.9 368.3,445.8 377.9,452.1 387.5,454.3 396.7,457.1 406.7,458.75 416.25,460.7 425.8,462.3 435,462.5 445,465.4 454.2,467.1 463.3,468.3 473.3,469.75 482.5,471.25 491.7,471.8 500.8,471.4 510.8,470.7 520,469.8 530,471.2 539.6,473.5 549.6,477.2 558.75,478.5 568.75,482.4 577.9,484.7 587.5,490.3 597.1,492 606.7,493.8 615.8,493 625,491.2 635,489.75 645,488.8 654.6,488.25 664.2,485.5 673.3,484.1 682.5,480.3 692.1,478.25 702.1,476.2 711.7,472.7 720.5,471.1 730,465.4 739.6,463.2 749.2,456.25 758.3,452.7 768.3,446.7 777.9,443.3 787.1,438.3 797.1,436.7 806.9,437.5 816,439.1 826,448 835,450.1 845,456 854.1,459 863.6,468.1 873.1,470 882.6,476 893.57,477.1" fill="none" stroke="#0000ff" stroke-width="1.39" stroke-linejoin="round"/>
<g fill="#000" stroke="none"><polygon points="321.1,396.6 323.1,396.6 322.85,427.6 321.55,427.6"/><polygon points="305.9,394.8 310,395.3 315,396.1 319,396.4 321.8,396.0 322.6,398.6 320,399.0 319.3,399.9 318.9,398.7 315,397.5 310,396.5 305.9,395.8"/></g><line x1="321.9" y1="396.9" x2="332.6" y2="383.2" stroke="#000" stroke-width="1.0"/><ellipse cx="323.2" cy="409.8" rx="0.8" ry="2.9" fill="#444" stroke="#000" stroke-width="0.8"/><ellipse cx="324.5" cy="414.6" rx="0.45" ry="0.8" fill="#000"/>
</g>
<g stroke="#000" stroke-width="0.69" stroke-dasharray="1.39 4.17" fill="none"><line x1="319.5" y1="572.5" x2="319.5" y2="63.5"/><line x1="488.5" y1="572.5" x2="488.5" y2="63.5"/><line x1="657.5" y1="572.5" x2="657.5" y2="63.5"/><line x1="826.5" y1="572.5" x2="826.5" y2="63.5"/><line x1="150.5" y1="499.5" x2="894.5" y2="499.5"/><line x1="150.5" y1="427.5" x2="894.5" y2="427.5"/><line x1="150.5" y1="354.5" x2="894.5" y2="354.5"/><line x1="150.5" y1="281.5" x2="894.5" y2="281.5"/><line x1="150.5" y1="208.5" x2="894.5" y2="208.5"/><line x1="150.5" y1="136.5" x2="894.5" y2="136.5"/></g>
<path d="M150.5 572.5v-5.56M150.5 63.5v5.56M319.5 572.5v-5.56M319.5 63.5v5.56M488.5 572.5v-5.56M488.5 63.5v5.56M657.5 572.5v-5.56M657.5 63.5v5.56M826.5 572.5v-5.56M826.5 63.5v5.56M150.5 572.5h5.56M894.5 572.5h-5.56M150.5 499.5h5.56M894.5 499.5h-5.56M150.5 427.5h5.56M894.5 427.5h-5.56M150.5 354.5h5.56M894.5 354.5h-5.56M150.5 281.5h5.56M894.5 281.5h-5.56M150.5 208.5h5.56M894.5 208.5h-5.56M150.5 136.5h5.56M894.5 136.5h-5.56M150.5 63.5h5.56M894.5 63.5h-5.56" stroke="#000" stroke-width="0.69" fill="none"/>
<rect x="150.5" y="63.5" width="744.0" height="509.0" fill="none" stroke="#000" stroke-width="1.39"/>
<rect x="940.5" y="63.5" width="26.0" height="509.0" fill="url(#cb)"/>
<path d="M966.5 521.5h-5.56M966.5 470.5h-5.56M966.5 419.5h-5.56M966.5 368.5h-5.56M966.5 318.5h-5.56M966.5 267.5h-5.56M966.5 216.5h-5.56M966.5 165.5h-5.56M966.5 114.5h-5.56" stroke="#000" stroke-width="0.69" fill="none"/>
<rect x="940.5" y="63.5" width="26.0" height="509.0" fill="none" stroke="#000" stroke-width="1.39"/>
<g font-family="Liberation Sans, sans-serif" fill="#000"><text transform="translate(0,577.6)" x="113.57 124.17 134.76" y="0" font-size="17.59">400</text><rect x="100.98" y="571.68" width="10.42" height="1.37"/><text transform="translate(0,504.89)" x="113.35 124.17 134.76" y="0" font-size="17.59">200</text><rect x="100.98" y="498.97" width="10.42" height="1.37"/><text transform="translate(0,432.17)" x="134.76" y="0" font-size="17.59">0</text><text transform="translate(0,359.46)" x="113.35 124.17 134.76" y="0" font-size="17.59">200</text><text transform="translate(0,286.74)" x="113.57 124.17 134.76" y="0" font-size="17.59">400</text><text transform="translate(0,214.03)" x="113.57 124.17 134.76" y="0" font-size="17.59">600</text><text transform="translate(0,141.31)" x="113.57 124.17 134.76" y="0" font-size="17.59">800</text><text transform="translate(0,68.6)" x="102.89 113.57 124.17 134.76" y="0" font-size="17.59">1000</text><text transform="translate(0,592)" x="141.93 152.59 163.18" y="0" font-size="17.59">500</text><rect x="129.4" y="586.08" width="10.42" height="1.37"/><text transform="translate(0,592)" x="314.71" y="0" font-size="17.59">0</text><text transform="translate(0,592)" x="473.14 483.8 494.39" y="0" font-size="17.59">500</text><text transform="translate(0,592)" x="636.91 647.59 658.18 668.78" y="0" font-size="17.59">1000</text><text transform="translate(0,592)" x="806 816.62 827.28 837.87" y="0" font-size="17.59">1500</text><text transform="translate(0,56.6)" x="393.99 406.99 419.61 432.39 445.1 451.9 464.54 477.29 483.98 496.81 515.79 528.62 541.29 548.08 560.81 573.48 580.27 593 611.29 625.9 637.69" y="0" font-size="21.1">2017/05/1818:00:00UTC</text><text transform="translate(0,619.8)" x="410.46 424.56 430.39 442.86 450.07 464.79 478.25 490.84 512.16 520.18 540.56 561.66 575.73 599.48 614.81" y="0" font-size="22.89">distancetoWEC/m</text><g transform="translate(87,319.5) rotate(-90)"><text transform="translate(0,0)" x="-77.08 -68.64 -55.44 -49.47 -35 -21.12 -7.42 -1.26 12.99 27.47 42.68 58.01" y="0" font-size="22.89">rel.height/m</text></g><text transform="translate(0,579)" x="990.63 1004.87" y="0" font-size="23.44">10</text><rect x="973.96" y="571.11" width="13.89" height="1.82"/><text transform="translate(0,528.1)" x="990.75" y="0" font-size="23.44">8</text><rect x="973.96" y="520.21" width="13.89" height="1.82"/><text transform="translate(0,477.2)" x="990.75" y="0" font-size="23.44">6</text><rect x="973.96" y="469.31" width="13.89" height="1.82"/><text transform="translate(0,426.3)" x="990.74" y="0" font-size="23.44">4</text><rect x="973.96" y="418.41" width="13.89" height="1.82"/><text transform="translate(0,375.4)" x="990.45" y="0" font-size="23.44">2</text><rect x="973.96" y="367.51" width="13.89" height="1.82"/><text transform="translate(0,324.5)" x="972.15" y="0" font-size="23.44">0</text><text transform="translate(0,273.6)" x="971.85" y="0" font-size="23.44">2</text><text transform="translate(0,222.7)" x="972.14" y="0" font-size="23.44">4</text><text transform="translate(0,171.8)" x="972.14" y="0" font-size="23.44">6</text><text transform="translate(0,120.9)" x="972.15" y="0" font-size="23.44">8</text><text transform="translate(0,70)" x="972.03 986.27" y="0" font-size="23.44">10</text><g transform="translate(1043.9,318.4) rotate(-90)"><text transform="translate(0,0)" x="-138.39 -130.85 -116.32 -102.23 -96.98 -82.46 -68.96 -51.07 -44.72 -30.84 -10.02 2.17 15.94 29.6 43.29 64.45 79.78 107.32" y="0" font-size="22.89">radialwindspeed/ms</text><text transform="translate(0,-9.6)" x="132" y="0" font-size="14.77">1</text><rect x="121.48" y="-14.57" width="8.75" height="1.15"/></g></g>
</svg>
</body></html>
